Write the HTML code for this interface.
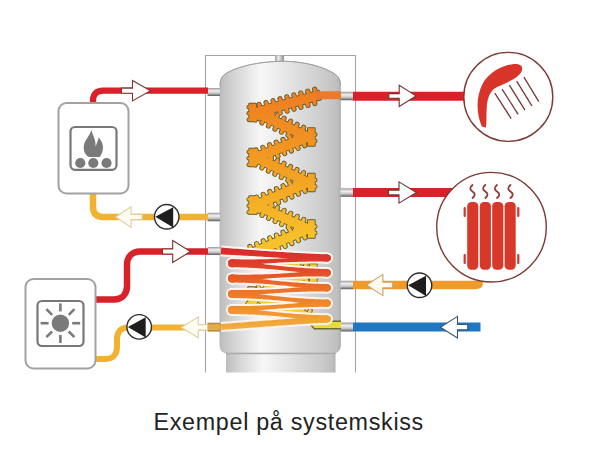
<!DOCTYPE html>
<html><head><meta charset="utf-8"><style>
html,body{margin:0;padding:0;background:#fff;}
body{width:612px;height:476px;position:relative;overflow:hidden;}
svg{position:absolute;left:0;top:0;}
.cap{position:absolute;left:0;top:0;width:612px;font-family:"Liberation Sans",sans-serif;font-size:23.3px;letter-spacing:0.7px;color:#232323;white-space:nowrap;}
.cap span{position:absolute;left:153.5px;top:409px;}
</style></head><body>
<svg width="612" height="476" viewBox="0 0 612 476">
<defs>
<linearGradient id="tankg" x1="0" x2="1" y1="0" y2="0">
 <stop offset="0" stop-color="#bdbdbd"/>
 <stop offset="0.12" stop-color="#d5d5d6"/>
 <stop offset="0.34" stop-color="#f7f7f7"/>
 <stop offset="0.62" stop-color="#e0e0e1"/>
 <stop offset="0.88" stop-color="#cacacb"/>
 <stop offset="0.97" stop-color="#bfbfc0"/>
 <stop offset="1" stop-color="#b2b2b3"/>
</linearGradient>
<linearGradient id="stubg" x1="0" x2="0" y1="0" y2="1">
 <stop offset="0" stop-color="#9a9a9a"/>
 <stop offset="0.35" stop-color="#f0f0f0"/>
 <stop offset="0.65" stop-color="#c8c8c8"/>
 <stop offset="1" stop-color="#5a5a5a"/>
</linearGradient>
<linearGradient id="nozg" x1="0" x2="1" y1="0" y2="0">
 <stop offset="0" stop-color="#a0a0a0"/>
 <stop offset="0.4" stop-color="#eeeeee"/>
 <stop offset="1" stop-color="#8a8a8a"/>
</linearGradient>
<linearGradient id="coilup" x1="0" x2="0" y1="85" y2="330" gradientUnits="userSpaceOnUse">
 <stop offset="0" stop-color="#ee7a22"/>
 <stop offset="0.3" stop-color="#f29a22"/>
 <stop offset="0.62" stop-color="#f7c02a"/>
 <stop offset="1" stop-color="#ecd834"/>
</linearGradient>
<linearGradient id="coillow" x1="0" x2="0" y1="250" y2="328" gradientUnits="userSpaceOnUse">
 <stop offset="0" stop-color="#d92a2c"/>
 <stop offset="0.2" stop-color="#e0402a"/>
 <stop offset="0.45" stop-color="#ea6c28"/>
 <stop offset="0.75" stop-color="#f0902e"/>
 <stop offset="1" stop-color="#f2ae3e"/>
</linearGradient>
</defs>
<path d="M205.5,372.5 V55.5 H355.5 V372.5" fill="none" stroke="#a4a4a4" stroke-width="1.1"/><rect x="226" y="350" width="109.5" height="22.5" fill="url(#tankg)"/><path d="M226,353.5 H335.5" stroke="#a8a8ab" stroke-width="1.5"/><rect x="275" y="55.5" width="9" height="7" fill="url(#nozg)"/><path d="M220,345 V86 C220,79 222,76 226,73.5 C236,67 258,61.5 283,61.2 C305,61.5 324,67 334,73.5 C338.5,76.5 340.5,79 340.5,86 V345 Q340.5,353 332.5,353 H228 Q220,353 220,345 Z" fill="url(#tankg)" stroke="#b0b0b3" stroke-width="0.8"/><path d="M220,86 C220,79 222,76 226,73.5 C236,67 258,61.5 283,61.2 C305,61.5 324,67 334,73.5 C338.5,76.5 340.5,79 340.5,86" fill="none" stroke="#9c9c9f" stroke-width="0.9"/><rect x="207.5" y="88" width="12.5" height="8" fill="url(#stubg)"/><rect x="207.5" y="212.75" width="12.5" height="8.5" fill="url(#stubg)"/><rect x="207.5" y="247" width="12.5" height="8" fill="url(#stubg)"/><rect x="207.5" y="323" width="12.5" height="8" fill="url(#stubg)"/><rect x="340.5" y="91.75" width="12.5" height="8.5" fill="url(#stubg)"/><rect x="340.5" y="188.25" width="12.5" height="8.5" fill="url(#stubg)"/><rect x="340.5" y="280.75" width="12.5" height="8.5" fill="url(#stubg)"/><rect x="340.5" y="322.5" width="12.5" height="9" fill="url(#stubg)"/><path d="M318.75,90.5 L253.82,108.33 L256.25,117.2 L321.18,99.37 Z" fill="#5e5a2c" stroke="#5e5a2c" stroke-width="1.7" stroke-linejoin="round"/><path d="M315.33,91.65 L314.67,89.23" stroke="#5e5a2c" stroke-width="5.2" stroke-linecap="round"/><path d="M308.38,93.55 L307.72,91.14" stroke="#5e5a2c" stroke-width="5.2" stroke-linecap="round"/><path d="M301.44,95.46 L300.78,93.05" stroke="#5e5a2c" stroke-width="5.2" stroke-linecap="round"/><path d="M294.5,97.37 L293.84,94.95" stroke="#5e5a2c" stroke-width="5.2" stroke-linecap="round"/><path d="M287.56,99.27 L286.89,96.86" stroke="#5e5a2c" stroke-width="5.2" stroke-linecap="round"/><path d="M280.61,101.18 L279.95,98.77" stroke="#5e5a2c" stroke-width="5.2" stroke-linecap="round"/><path d="M273.67,103.08 L273.01,100.67" stroke="#5e5a2c" stroke-width="5.2" stroke-linecap="round"/><path d="M266.73,104.99 L266.06,102.58" stroke="#5e5a2c" stroke-width="5.2" stroke-linecap="round"/><path d="M259.78,106.9 L259.12,104.49" stroke="#5e5a2c" stroke-width="5.2" stroke-linecap="round"/><path d="M314.19,101.08 L314.85,103.5" stroke="#5e5a2c" stroke-width="5.2" stroke-linecap="round"/><path d="M307.24,102.99 L307.91,105.4" stroke="#5e5a2c" stroke-width="5.2" stroke-linecap="round"/><path d="M300.3,104.9 L300.96,107.31" stroke="#5e5a2c" stroke-width="5.2" stroke-linecap="round"/><path d="M293.36,106.8 L294.02,109.22" stroke="#5e5a2c" stroke-width="5.2" stroke-linecap="round"/><path d="M286.41,108.71 L287.08,111.12" stroke="#5e5a2c" stroke-width="5.2" stroke-linecap="round"/><path d="M279.47,110.62 L280.13,113.03" stroke="#5e5a2c" stroke-width="5.2" stroke-linecap="round"/><path d="M272.53,112.52 L273.19,114.93" stroke="#5e5a2c" stroke-width="5.2" stroke-linecap="round"/><path d="M265.59,114.43 L266.25,116.84" stroke="#5e5a2c" stroke-width="5.2" stroke-linecap="round"/><path d="M258.64,116.34 L259.3,118.75" stroke="#5e5a2c" stroke-width="5.2" stroke-linecap="round"/><path d="M253.13,116.24 L306.94,141.59 L310.87,133.26 L257.06,107.91 Z" fill="#5e5a2c" stroke="#5e5a2c" stroke-width="1.7" stroke-linejoin="round"/><path d="M256.48,117.59 L255.41,119.85" stroke="#5e5a2c" stroke-width="5.2" stroke-linecap="round"/><path d="M262.99,120.66 L261.92,122.92" stroke="#5e5a2c" stroke-width="5.2" stroke-linecap="round"/><path d="M269.5,123.73 L268.44,125.99" stroke="#5e5a2c" stroke-width="5.2" stroke-linecap="round"/><path d="M276.02,126.79 L274.95,129.06" stroke="#5e5a2c" stroke-width="5.2" stroke-linecap="round"/><path d="M282.53,129.86 L281.46,132.13" stroke="#5e5a2c" stroke-width="5.2" stroke-linecap="round"/><path d="M289.04,132.93 L287.98,135.19" stroke="#5e5a2c" stroke-width="5.2" stroke-linecap="round"/><path d="M295.56,136 L294.49,138.26" stroke="#5e5a2c" stroke-width="5.2" stroke-linecap="round"/><path d="M302.07,139.07 L301,141.33" stroke="#5e5a2c" stroke-width="5.2" stroke-linecap="round"/><path d="M263.48,111.16 L264.55,108.9" stroke="#5e5a2c" stroke-width="5.2" stroke-linecap="round"/><path d="M270,114.23 L271.06,111.97" stroke="#5e5a2c" stroke-width="5.2" stroke-linecap="round"/><path d="M276.51,117.3 L277.58,115.04" stroke="#5e5a2c" stroke-width="5.2" stroke-linecap="round"/><path d="M283.02,120.37 L284.09,118.11" stroke="#5e5a2c" stroke-width="5.2" stroke-linecap="round"/><path d="M289.54,123.44 L290.6,121.18" stroke="#5e5a2c" stroke-width="5.2" stroke-linecap="round"/><path d="M296.05,126.51 L297.12,124.24" stroke="#5e5a2c" stroke-width="5.2" stroke-linecap="round"/><path d="M302.56,129.57 L303.63,127.31" stroke="#5e5a2c" stroke-width="5.2" stroke-linecap="round"/><path d="M309.08,132.64 L310.14,130.38" stroke="#5e5a2c" stroke-width="5.2" stroke-linecap="round"/><path d="M307.24,132.35 L253.38,153.59 L256.76,162.15 L310.62,140.91 Z" fill="#5e5a2c" stroke="#5e5a2c" stroke-width="1.7" stroke-linejoin="round"/><path d="M303.97,133.86 L303.05,131.53" stroke="#5e5a2c" stroke-width="5.2" stroke-linecap="round"/><path d="M297.27,136.5 L296.35,134.18" stroke="#5e5a2c" stroke-width="5.2" stroke-linecap="round"/><path d="M290.57,139.14 L289.65,136.82" stroke="#5e5a2c" stroke-width="5.2" stroke-linecap="round"/><path d="M283.87,141.78 L282.96,139.46" stroke="#5e5a2c" stroke-width="5.2" stroke-linecap="round"/><path d="M277.17,144.42 L276.26,142.1" stroke="#5e5a2c" stroke-width="5.2" stroke-linecap="round"/><path d="M270.48,147.06 L269.56,144.74" stroke="#5e5a2c" stroke-width="5.2" stroke-linecap="round"/><path d="M263.78,149.7 L262.86,147.38" stroke="#5e5a2c" stroke-width="5.2" stroke-linecap="round"/><path d="M257.08,152.34 L256.16,150.02" stroke="#5e5a2c" stroke-width="5.2" stroke-linecap="round"/><path d="M303.85,143.37 L304.76,145.69" stroke="#5e5a2c" stroke-width="5.2" stroke-linecap="round"/><path d="M297.15,146.01 L298.06,148.33" stroke="#5e5a2c" stroke-width="5.2" stroke-linecap="round"/><path d="M290.45,148.65 L291.37,150.97" stroke="#5e5a2c" stroke-width="5.2" stroke-linecap="round"/><path d="M283.75,151.29 L284.67,153.62" stroke="#5e5a2c" stroke-width="5.2" stroke-linecap="round"/><path d="M277.05,153.93 L277.97,156.26" stroke="#5e5a2c" stroke-width="5.2" stroke-linecap="round"/><path d="M270.35,156.57 L271.27,158.9" stroke="#5e5a2c" stroke-width="5.2" stroke-linecap="round"/><path d="M263.66,159.21 L264.57,161.54" stroke="#5e5a2c" stroke-width="5.2" stroke-linecap="round"/><path d="M253.11,161.21 L306.91,187.08 L310.89,178.79 L257.09,152.92 Z" fill="#5e5a2c" stroke="#5e5a2c" stroke-width="1.7" stroke-linejoin="round"/><path d="M256.44,162.59 L255.35,164.85" stroke="#5e5a2c" stroke-width="5.2" stroke-linecap="round"/><path d="M262.93,165.71 L261.84,167.96" stroke="#5e5a2c" stroke-width="5.2" stroke-linecap="round"/><path d="M269.41,168.83 L268.33,171.08" stroke="#5e5a2c" stroke-width="5.2" stroke-linecap="round"/><path d="M275.9,171.95 L274.82,174.2" stroke="#5e5a2c" stroke-width="5.2" stroke-linecap="round"/><path d="M282.39,175.07 L281.31,177.32" stroke="#5e5a2c" stroke-width="5.2" stroke-linecap="round"/><path d="M288.88,178.19 L287.8,180.44" stroke="#5e5a2c" stroke-width="5.2" stroke-linecap="round"/><path d="M295.37,181.31 L294.29,183.56" stroke="#5e5a2c" stroke-width="5.2" stroke-linecap="round"/><path d="M301.86,184.43 L300.78,186.68" stroke="#5e5a2c" stroke-width="5.2" stroke-linecap="round"/><path d="M263.49,156.22 L264.58,153.97" stroke="#5e5a2c" stroke-width="5.2" stroke-linecap="round"/><path d="M269.98,159.34 L271.07,157.09" stroke="#5e5a2c" stroke-width="5.2" stroke-linecap="round"/><path d="M276.47,162.46 L277.56,160.21" stroke="#5e5a2c" stroke-width="5.2" stroke-linecap="round"/><path d="M282.96,165.58 L284.04,163.33" stroke="#5e5a2c" stroke-width="5.2" stroke-linecap="round"/><path d="M289.45,168.7 L290.53,166.45" stroke="#5e5a2c" stroke-width="5.2" stroke-linecap="round"/><path d="M295.94,171.82 L297.02,169.57" stroke="#5e5a2c" stroke-width="5.2" stroke-linecap="round"/><path d="M302.43,174.94 L303.51,172.69" stroke="#5e5a2c" stroke-width="5.2" stroke-linecap="round"/><path d="M308.92,178.06 L310,175.81" stroke="#5e5a2c" stroke-width="5.2" stroke-linecap="round"/><path d="M307.09,177.88 L253.26,201.18 L256.91,209.62 L310.74,186.32 Z" fill="#5e5a2c" stroke="#5e5a2c" stroke-width="1.7" stroke-linejoin="round"/><path d="M303.87,179.49 L302.87,177.2" stroke="#5e5a2c" stroke-width="5.2" stroke-linecap="round"/><path d="M297.26,182.35 L296.27,180.06" stroke="#5e5a2c" stroke-width="5.2" stroke-linecap="round"/><path d="M290.65,185.21 L289.66,182.92" stroke="#5e5a2c" stroke-width="5.2" stroke-linecap="round"/><path d="M284.04,188.07 L283.05,185.78" stroke="#5e5a2c" stroke-width="5.2" stroke-linecap="round"/><path d="M277.43,190.93 L276.44,188.64" stroke="#5e5a2c" stroke-width="5.2" stroke-linecap="round"/><path d="M270.83,193.79 L269.83,191.5" stroke="#5e5a2c" stroke-width="5.2" stroke-linecap="round"/><path d="M264.22,196.65 L263.23,194.36" stroke="#5e5a2c" stroke-width="5.2" stroke-linecap="round"/><path d="M257.61,199.51 L256.62,197.21" stroke="#5e5a2c" stroke-width="5.2" stroke-linecap="round"/><path d="M304.06,189 L305.05,191.29" stroke="#5e5a2c" stroke-width="5.2" stroke-linecap="round"/><path d="M297.45,191.86 L298.44,194.15" stroke="#5e5a2c" stroke-width="5.2" stroke-linecap="round"/><path d="M290.84,194.72 L291.83,197.01" stroke="#5e5a2c" stroke-width="5.2" stroke-linecap="round"/><path d="M284.23,197.58 L285.23,199.87" stroke="#5e5a2c" stroke-width="5.2" stroke-linecap="round"/><path d="M277.63,200.44 L278.62,202.73" stroke="#5e5a2c" stroke-width="5.2" stroke-linecap="round"/><path d="M271.02,203.3 L272.01,205.59" stroke="#5e5a2c" stroke-width="5.2" stroke-linecap="round"/><path d="M264.41,206.16 L265.4,208.45" stroke="#5e5a2c" stroke-width="5.2" stroke-linecap="round"/><path d="M257.8,209.01 L258.79,211.31" stroke="#5e5a2c" stroke-width="5.2" stroke-linecap="round"/><path d="M253.16,208.76 L306.98,233.6 L310.84,225.24 L257.02,200.4 Z" fill="#5e5a2c" stroke="#5e5a2c" stroke-width="1.7" stroke-linejoin="round"/><path d="M256.52,210.08 L255.47,212.35" stroke="#5e5a2c" stroke-width="5.2" stroke-linecap="round"/><path d="M263.05,213.1 L262.01,215.37" stroke="#5e5a2c" stroke-width="5.2" stroke-linecap="round"/><path d="M269.59,216.12 L268.54,218.39" stroke="#5e5a2c" stroke-width="5.2" stroke-linecap="round"/><path d="M276.13,219.14 L275.08,221.41" stroke="#5e5a2c" stroke-width="5.2" stroke-linecap="round"/><path d="M282.67,222.15 L281.62,224.42" stroke="#5e5a2c" stroke-width="5.2" stroke-linecap="round"/><path d="M289.2,225.17 L288.16,227.44" stroke="#5e5a2c" stroke-width="5.2" stroke-linecap="round"/><path d="M295.74,228.19 L294.69,230.46" stroke="#5e5a2c" stroke-width="5.2" stroke-linecap="round"/><path d="M302.28,231.21 L301.23,233.48" stroke="#5e5a2c" stroke-width="5.2" stroke-linecap="round"/><path d="M263.47,203.6 L264.52,201.33" stroke="#5e5a2c" stroke-width="5.2" stroke-linecap="round"/><path d="M270.01,206.62 L271.06,204.35" stroke="#5e5a2c" stroke-width="5.2" stroke-linecap="round"/><path d="M276.55,209.64 L277.6,207.37" stroke="#5e5a2c" stroke-width="5.2" stroke-linecap="round"/><path d="M283.09,212.65 L284.13,210.38" stroke="#5e5a2c" stroke-width="5.2" stroke-linecap="round"/><path d="M289.62,215.67 L290.67,213.4" stroke="#5e5a2c" stroke-width="5.2" stroke-linecap="round"/><path d="M296.16,218.69 L297.21,216.42" stroke="#5e5a2c" stroke-width="5.2" stroke-linecap="round"/><path d="M302.7,221.71 L303.74,219.44" stroke="#5e5a2c" stroke-width="5.2" stroke-linecap="round"/><path d="M309.23,224.72 L310.28,222.45" stroke="#5e5a2c" stroke-width="5.2" stroke-linecap="round"/><path d="M307.1,224.38 L247.26,250.17 L250.9,258.62 L310.74,232.83 Z" fill="#5e5a2c" stroke="#5e5a2c" stroke-width="1.7" stroke-linejoin="round"/><path d="M303.87,225.99 L302.88,223.69" stroke="#5e5a2c" stroke-width="5.2" stroke-linecap="round"/><path d="M297.26,228.84 L296.27,226.54" stroke="#5e5a2c" stroke-width="5.2" stroke-linecap="round"/><path d="M290.65,231.69 L289.66,229.39" stroke="#5e5a2c" stroke-width="5.2" stroke-linecap="round"/><path d="M284.03,234.54 L283.05,232.24" stroke="#5e5a2c" stroke-width="5.2" stroke-linecap="round"/><path d="M277.42,237.39 L276.43,235.09" stroke="#5e5a2c" stroke-width="5.2" stroke-linecap="round"/><path d="M270.81,240.24 L269.82,237.94" stroke="#5e5a2c" stroke-width="5.2" stroke-linecap="round"/><path d="M264.2,243.09 L263.21,240.79" stroke="#5e5a2c" stroke-width="5.2" stroke-linecap="round"/><path d="M257.59,245.94 L256.6,243.64" stroke="#5e5a2c" stroke-width="5.2" stroke-linecap="round"/><path d="M250.98,248.79 L249.99,246.49" stroke="#5e5a2c" stroke-width="5.2" stroke-linecap="round"/><path d="M304.05,235.49 L305.04,237.79" stroke="#5e5a2c" stroke-width="5.2" stroke-linecap="round"/><path d="M297.44,238.34 L298.43,240.64" stroke="#5e5a2c" stroke-width="5.2" stroke-linecap="round"/><path d="M290.82,241.19 L291.81,243.49" stroke="#5e5a2c" stroke-width="5.2" stroke-linecap="round"/><path d="M284.21,244.04 L285.2,246.34" stroke="#5e5a2c" stroke-width="5.2" stroke-linecap="round"/><path d="M277.6,246.89 L278.59,249.19" stroke="#5e5a2c" stroke-width="5.2" stroke-linecap="round"/><path d="M270.99,249.74 L271.98,252.04" stroke="#5e5a2c" stroke-width="5.2" stroke-linecap="round"/><path d="M264.38,252.59 L265.37,254.89" stroke="#5e5a2c" stroke-width="5.2" stroke-linecap="round"/><path d="M257.76,255.44 L258.75,257.74" stroke="#5e5a2c" stroke-width="5.2" stroke-linecap="round"/><path d="M247.66,258.08 L309.56,277.69 L312.34,268.92 L250.44,249.31 Z" fill="#5e5a2c" stroke="#5e5a2c" stroke-width="1.7" stroke-linejoin="round"/><path d="M251.15,258.98 L250.4,261.36" stroke="#5e5a2c" stroke-width="5.2" stroke-linecap="round"/><path d="M258.01,261.15 L257.26,263.54" stroke="#5e5a2c" stroke-width="5.2" stroke-linecap="round"/><path d="M264.88,263.33 L264.12,265.71" stroke="#5e5a2c" stroke-width="5.2" stroke-linecap="round"/><path d="M271.74,265.5 L270.99,267.88" stroke="#5e5a2c" stroke-width="5.2" stroke-linecap="round"/><path d="M278.61,267.67 L277.85,270.06" stroke="#5e5a2c" stroke-width="5.2" stroke-linecap="round"/><path d="M285.47,269.85 L284.72,272.23" stroke="#5e5a2c" stroke-width="5.2" stroke-linecap="round"/><path d="M292.33,272.02 L291.58,274.4" stroke="#5e5a2c" stroke-width="5.2" stroke-linecap="round"/><path d="M299.2,274.19 L298.44,276.58" stroke="#5e5a2c" stroke-width="5.2" stroke-linecap="round"/><path d="M306.06,276.37 L305.31,278.75" stroke="#5e5a2c" stroke-width="5.2" stroke-linecap="round"/><path d="M257.24,251.68 L257.99,249.29" stroke="#5e5a2c" stroke-width="5.2" stroke-linecap="round"/><path d="M264.1,253.85 L264.86,251.47" stroke="#5e5a2c" stroke-width="5.2" stroke-linecap="round"/><path d="M270.97,256.02 L271.72,253.64" stroke="#5e5a2c" stroke-width="5.2" stroke-linecap="round"/><path d="M277.83,258.2 L278.59,255.81" stroke="#5e5a2c" stroke-width="5.2" stroke-linecap="round"/><path d="M284.7,260.37 L285.45,257.99" stroke="#5e5a2c" stroke-width="5.2" stroke-linecap="round"/><path d="M291.56,262.55 L292.31,260.16" stroke="#5e5a2c" stroke-width="5.2" stroke-linecap="round"/><path d="M298.42,264.72 L299.18,262.34" stroke="#5e5a2c" stroke-width="5.2" stroke-linecap="round"/><path d="M305.29,266.89 L306.04,264.51" stroke="#5e5a2c" stroke-width="5.2" stroke-linecap="round"/><path d="M309.15,268.37 L252.3,292.14 L255.85,300.63 L312.7,276.86 Z" fill="#5e5a2c" stroke="#5e5a2c" stroke-width="1.7" stroke-linejoin="round"/><path d="M305.9,269.94 L304.94,267.64" stroke="#5e5a2c" stroke-width="5.2" stroke-linecap="round"/><path d="M299.26,272.72 L298.3,270.42" stroke="#5e5a2c" stroke-width="5.2" stroke-linecap="round"/><path d="M292.62,275.5 L291.65,273.19" stroke="#5e5a2c" stroke-width="5.2" stroke-linecap="round"/><path d="M285.98,278.28 L285.01,275.97" stroke="#5e5a2c" stroke-width="5.2" stroke-linecap="round"/><path d="M279.33,281.05 L278.37,278.75" stroke="#5e5a2c" stroke-width="5.2" stroke-linecap="round"/><path d="M272.69,283.83 L271.73,281.53" stroke="#5e5a2c" stroke-width="5.2" stroke-linecap="round"/><path d="M266.05,286.61 L265.08,284.3" stroke="#5e5a2c" stroke-width="5.2" stroke-linecap="round"/><path d="M259.41,289.39 L258.44,287.08" stroke="#5e5a2c" stroke-width="5.2" stroke-linecap="round"/><path d="M305.98,279.45 L306.94,281.76" stroke="#5e5a2c" stroke-width="5.2" stroke-linecap="round"/><path d="M299.33,282.23 L300.3,284.54" stroke="#5e5a2c" stroke-width="5.2" stroke-linecap="round"/><path d="M292.69,285.01 L293.66,287.31" stroke="#5e5a2c" stroke-width="5.2" stroke-linecap="round"/><path d="M286.05,287.78 L287.01,290.09" stroke="#5e5a2c" stroke-width="5.2" stroke-linecap="round"/><path d="M279.41,290.56 L280.37,292.87" stroke="#5e5a2c" stroke-width="5.2" stroke-linecap="round"/><path d="M272.76,293.34 L273.73,295.65" stroke="#5e5a2c" stroke-width="5.2" stroke-linecap="round"/><path d="M266.12,296.12 L267.09,298.42" stroke="#5e5a2c" stroke-width="5.2" stroke-linecap="round"/><path d="M259.48,298.9 L260.44,301.2" stroke="#5e5a2c" stroke-width="5.2" stroke-linecap="round"/><path d="M252.36,299.9 L309.22,322.64 L312.64,314.1 L255.78,291.36 Z" fill="#5e5a2c" stroke="#5e5a2c" stroke-width="1.7" stroke-linejoin="round"/><path d="M255.78,301.05 L254.85,303.37" stroke="#5e5a2c" stroke-width="5.2" stroke-linecap="round"/><path d="M262.46,303.72 L261.54,306.05" stroke="#5e5a2c" stroke-width="5.2" stroke-linecap="round"/><path d="M269.15,306.4 L268.22,308.72" stroke="#5e5a2c" stroke-width="5.2" stroke-linecap="round"/><path d="M275.84,309.07 L274.91,311.39" stroke="#5e5a2c" stroke-width="5.2" stroke-linecap="round"/><path d="M282.52,311.75 L281.59,314.07" stroke="#5e5a2c" stroke-width="5.2" stroke-linecap="round"/><path d="M289.21,314.42 L288.28,316.74" stroke="#5e5a2c" stroke-width="5.2" stroke-linecap="round"/><path d="M295.89,317.09 L294.96,319.42" stroke="#5e5a2c" stroke-width="5.2" stroke-linecap="round"/><path d="M302.58,319.77 L301.65,322.09" stroke="#5e5a2c" stroke-width="5.2" stroke-linecap="round"/><path d="M262.39,294.22 L263.32,291.9" stroke="#5e5a2c" stroke-width="5.2" stroke-linecap="round"/><path d="M269.08,296.89 L270,294.57" stroke="#5e5a2c" stroke-width="5.2" stroke-linecap="round"/><path d="M275.76,299.57 L276.69,297.24" stroke="#5e5a2c" stroke-width="5.2" stroke-linecap="round"/><path d="M282.45,302.24 L283.37,299.92" stroke="#5e5a2c" stroke-width="5.2" stroke-linecap="round"/><path d="M289.13,304.91 L290.06,302.59" stroke="#5e5a2c" stroke-width="5.2" stroke-linecap="round"/><path d="M295.82,307.59 L296.74,305.27" stroke="#5e5a2c" stroke-width="5.2" stroke-linecap="round"/><path d="M302.5,310.26 L303.43,307.94" stroke="#5e5a2c" stroke-width="5.2" stroke-linecap="round"/><path d="M309.19,312.94 L310.11,310.61" stroke="#5e5a2c" stroke-width="5.2" stroke-linecap="round"/><path d="M249.2,103.7 L249.2,121.3 L256,121.3 L256,103.7 Z" fill="#5e5a2c" stroke="#5e5a2c" stroke-width="1.7" stroke-linejoin="round"/><path d="M250,106.9 L248.7,106.9" stroke="#5e5a2c" stroke-width="4.5" stroke-linecap="round"/><path d="M250,113.3 L248.7,113.3" stroke="#5e5a2c" stroke-width="4.5" stroke-linecap="round"/><path d="M250,119.7 L248.7,119.7" stroke="#5e5a2c" stroke-width="4.5" stroke-linecap="round"/><path d="M308,128.2 L308,145.8 L314.8,145.8 L314.8,128.2 Z" fill="#5e5a2c" stroke="#5e5a2c" stroke-width="1.7" stroke-linejoin="round"/><path d="M314,134.6 L315.3,134.6" stroke="#5e5a2c" stroke-width="4.5" stroke-linecap="round"/><path d="M314,141 L315.3,141" stroke="#5e5a2c" stroke-width="4.5" stroke-linecap="round"/><path d="M249.2,148.7 L249.2,166.3 L256,166.3 L256,148.7 Z" fill="#5e5a2c" stroke="#5e5a2c" stroke-width="1.7" stroke-linejoin="round"/><path d="M250,151.9 L248.7,151.9" stroke="#5e5a2c" stroke-width="4.5" stroke-linecap="round"/><path d="M250,158.3 L248.7,158.3" stroke="#5e5a2c" stroke-width="4.5" stroke-linecap="round"/><path d="M250,164.7 L248.7,164.7" stroke="#5e5a2c" stroke-width="4.5" stroke-linecap="round"/><path d="M308,173.7 L308,191.3 L314.8,191.3 L314.8,173.7 Z" fill="#5e5a2c" stroke="#5e5a2c" stroke-width="1.7" stroke-linejoin="round"/><path d="M314,180.1 L315.3,180.1" stroke="#5e5a2c" stroke-width="4.5" stroke-linecap="round"/><path d="M314,186.5 L315.3,186.5" stroke="#5e5a2c" stroke-width="4.5" stroke-linecap="round"/><path d="M249.2,196.2 L249.2,213.8 L256,213.8 L256,196.2 Z" fill="#5e5a2c" stroke="#5e5a2c" stroke-width="1.7" stroke-linejoin="round"/><path d="M250,199.4 L248.7,199.4" stroke="#5e5a2c" stroke-width="4.5" stroke-linecap="round"/><path d="M250,205.8 L248.7,205.8" stroke="#5e5a2c" stroke-width="4.5" stroke-linecap="round"/><path d="M250,212.2 L248.7,212.2" stroke="#5e5a2c" stroke-width="4.5" stroke-linecap="round"/><path d="M308,220.2 L308,237.8 L314.8,237.8 L314.8,220.2 Z" fill="#5e5a2c" stroke="#5e5a2c" stroke-width="1.7" stroke-linejoin="round"/><path d="M314,226.6 L315.3,226.6" stroke="#5e5a2c" stroke-width="4.5" stroke-linecap="round"/><path d="M314,233 L315.3,233" stroke="#5e5a2c" stroke-width="4.5" stroke-linecap="round"/><path d="M310,264.2 L310,281.8 L316.8,281.8 L316.8,264.2 Z" fill="#5e5a2c" stroke="#5e5a2c" stroke-width="1.7" stroke-linejoin="round"/><path d="M316,270.6 L317.3,270.6" stroke="#5e5a2c" stroke-width="4.5" stroke-linecap="round"/><path d="M316,277 L317.3,277" stroke="#5e5a2c" stroke-width="4.5" stroke-linecap="round"/><path d="M248.2,287.2 L248.2,304.8 L255,304.8 L255,287.2 Z" fill="#5e5a2c" stroke="#5e5a2c" stroke-width="1.7" stroke-linejoin="round"/><path d="M249,290.4 L247.7,290.4" stroke="#5e5a2c" stroke-width="4.5" stroke-linecap="round"/><path d="M249,296.8 L247.7,296.8" stroke="#5e5a2c" stroke-width="4.5" stroke-linecap="round"/><path d="M249,303.2 L247.7,303.2" stroke="#5e5a2c" stroke-width="4.5" stroke-linecap="round"/><path d="M310,318 L316,325 H341" stroke="#6f6a30" stroke-width="9"/><path d="M318.75,90.5 L253.82,108.33 L256.25,117.2 L321.18,99.37 Z" fill="url(#coilup)"/><path d="M315.33,91.65 L314.67,89.23" stroke="url(#coilup)" stroke-width="3.5" stroke-linecap="round"/><path d="M308.38,93.55 L307.72,91.14" stroke="url(#coilup)" stroke-width="3.5" stroke-linecap="round"/><path d="M301.44,95.46 L300.78,93.05" stroke="url(#coilup)" stroke-width="3.5" stroke-linecap="round"/><path d="M294.5,97.37 L293.84,94.95" stroke="url(#coilup)" stroke-width="3.5" stroke-linecap="round"/><path d="M287.56,99.27 L286.89,96.86" stroke="url(#coilup)" stroke-width="3.5" stroke-linecap="round"/><path d="M280.61,101.18 L279.95,98.77" stroke="url(#coilup)" stroke-width="3.5" stroke-linecap="round"/><path d="M273.67,103.08 L273.01,100.67" stroke="url(#coilup)" stroke-width="3.5" stroke-linecap="round"/><path d="M266.73,104.99 L266.06,102.58" stroke="url(#coilup)" stroke-width="3.5" stroke-linecap="round"/><path d="M259.78,106.9 L259.12,104.49" stroke="url(#coilup)" stroke-width="3.5" stroke-linecap="round"/><path d="M314.19,101.08 L314.85,103.5" stroke="url(#coilup)" stroke-width="3.5" stroke-linecap="round"/><path d="M307.24,102.99 L307.91,105.4" stroke="url(#coilup)" stroke-width="3.5" stroke-linecap="round"/><path d="M300.3,104.9 L300.96,107.31" stroke="url(#coilup)" stroke-width="3.5" stroke-linecap="round"/><path d="M293.36,106.8 L294.02,109.22" stroke="url(#coilup)" stroke-width="3.5" stroke-linecap="round"/><path d="M286.41,108.71 L287.08,111.12" stroke="url(#coilup)" stroke-width="3.5" stroke-linecap="round"/><path d="M279.47,110.62 L280.13,113.03" stroke="url(#coilup)" stroke-width="3.5" stroke-linecap="round"/><path d="M272.53,112.52 L273.19,114.93" stroke="url(#coilup)" stroke-width="3.5" stroke-linecap="round"/><path d="M265.59,114.43 L266.25,116.84" stroke="url(#coilup)" stroke-width="3.5" stroke-linecap="round"/><path d="M258.64,116.34 L259.3,118.75" stroke="url(#coilup)" stroke-width="3.5" stroke-linecap="round"/><path d="M253.13,116.24 L306.94,141.59 L310.87,133.26 L257.06,107.91 Z" fill="url(#coilup)"/><path d="M256.48,117.59 L255.41,119.85" stroke="url(#coilup)" stroke-width="3.5" stroke-linecap="round"/><path d="M262.99,120.66 L261.92,122.92" stroke="url(#coilup)" stroke-width="3.5" stroke-linecap="round"/><path d="M269.5,123.73 L268.44,125.99" stroke="url(#coilup)" stroke-width="3.5" stroke-linecap="round"/><path d="M276.02,126.79 L274.95,129.06" stroke="url(#coilup)" stroke-width="3.5" stroke-linecap="round"/><path d="M282.53,129.86 L281.46,132.13" stroke="url(#coilup)" stroke-width="3.5" stroke-linecap="round"/><path d="M289.04,132.93 L287.98,135.19" stroke="url(#coilup)" stroke-width="3.5" stroke-linecap="round"/><path d="M295.56,136 L294.49,138.26" stroke="url(#coilup)" stroke-width="3.5" stroke-linecap="round"/><path d="M302.07,139.07 L301,141.33" stroke="url(#coilup)" stroke-width="3.5" stroke-linecap="round"/><path d="M263.48,111.16 L264.55,108.9" stroke="url(#coilup)" stroke-width="3.5" stroke-linecap="round"/><path d="M270,114.23 L271.06,111.97" stroke="url(#coilup)" stroke-width="3.5" stroke-linecap="round"/><path d="M276.51,117.3 L277.58,115.04" stroke="url(#coilup)" stroke-width="3.5" stroke-linecap="round"/><path d="M283.02,120.37 L284.09,118.11" stroke="url(#coilup)" stroke-width="3.5" stroke-linecap="round"/><path d="M289.54,123.44 L290.6,121.18" stroke="url(#coilup)" stroke-width="3.5" stroke-linecap="round"/><path d="M296.05,126.51 L297.12,124.24" stroke="url(#coilup)" stroke-width="3.5" stroke-linecap="round"/><path d="M302.56,129.57 L303.63,127.31" stroke="url(#coilup)" stroke-width="3.5" stroke-linecap="round"/><path d="M309.08,132.64 L310.14,130.38" stroke="url(#coilup)" stroke-width="3.5" stroke-linecap="round"/><path d="M307.24,132.35 L253.38,153.59 L256.76,162.15 L310.62,140.91 Z" fill="url(#coilup)"/><path d="M303.97,133.86 L303.05,131.53" stroke="url(#coilup)" stroke-width="3.5" stroke-linecap="round"/><path d="M297.27,136.5 L296.35,134.18" stroke="url(#coilup)" stroke-width="3.5" stroke-linecap="round"/><path d="M290.57,139.14 L289.65,136.82" stroke="url(#coilup)" stroke-width="3.5" stroke-linecap="round"/><path d="M283.87,141.78 L282.96,139.46" stroke="url(#coilup)" stroke-width="3.5" stroke-linecap="round"/><path d="M277.17,144.42 L276.26,142.1" stroke="url(#coilup)" stroke-width="3.5" stroke-linecap="round"/><path d="M270.48,147.06 L269.56,144.74" stroke="url(#coilup)" stroke-width="3.5" stroke-linecap="round"/><path d="M263.78,149.7 L262.86,147.38" stroke="url(#coilup)" stroke-width="3.5" stroke-linecap="round"/><path d="M257.08,152.34 L256.16,150.02" stroke="url(#coilup)" stroke-width="3.5" stroke-linecap="round"/><path d="M303.85,143.37 L304.76,145.69" stroke="url(#coilup)" stroke-width="3.5" stroke-linecap="round"/><path d="M297.15,146.01 L298.06,148.33" stroke="url(#coilup)" stroke-width="3.5" stroke-linecap="round"/><path d="M290.45,148.65 L291.37,150.97" stroke="url(#coilup)" stroke-width="3.5" stroke-linecap="round"/><path d="M283.75,151.29 L284.67,153.62" stroke="url(#coilup)" stroke-width="3.5" stroke-linecap="round"/><path d="M277.05,153.93 L277.97,156.26" stroke="url(#coilup)" stroke-width="3.5" stroke-linecap="round"/><path d="M270.35,156.57 L271.27,158.9" stroke="url(#coilup)" stroke-width="3.5" stroke-linecap="round"/><path d="M263.66,159.21 L264.57,161.54" stroke="url(#coilup)" stroke-width="3.5" stroke-linecap="round"/><path d="M253.11,161.21 L306.91,187.08 L310.89,178.79 L257.09,152.92 Z" fill="url(#coilup)"/><path d="M256.44,162.59 L255.35,164.85" stroke="url(#coilup)" stroke-width="3.5" stroke-linecap="round"/><path d="M262.93,165.71 L261.84,167.96" stroke="url(#coilup)" stroke-width="3.5" stroke-linecap="round"/><path d="M269.41,168.83 L268.33,171.08" stroke="url(#coilup)" stroke-width="3.5" stroke-linecap="round"/><path d="M275.9,171.95 L274.82,174.2" stroke="url(#coilup)" stroke-width="3.5" stroke-linecap="round"/><path d="M282.39,175.07 L281.31,177.32" stroke="url(#coilup)" stroke-width="3.5" stroke-linecap="round"/><path d="M288.88,178.19 L287.8,180.44" stroke="url(#coilup)" stroke-width="3.5" stroke-linecap="round"/><path d="M295.37,181.31 L294.29,183.56" stroke="url(#coilup)" stroke-width="3.5" stroke-linecap="round"/><path d="M301.86,184.43 L300.78,186.68" stroke="url(#coilup)" stroke-width="3.5" stroke-linecap="round"/><path d="M263.49,156.22 L264.58,153.97" stroke="url(#coilup)" stroke-width="3.5" stroke-linecap="round"/><path d="M269.98,159.34 L271.07,157.09" stroke="url(#coilup)" stroke-width="3.5" stroke-linecap="round"/><path d="M276.47,162.46 L277.56,160.21" stroke="url(#coilup)" stroke-width="3.5" stroke-linecap="round"/><path d="M282.96,165.58 L284.04,163.33" stroke="url(#coilup)" stroke-width="3.5" stroke-linecap="round"/><path d="M289.45,168.7 L290.53,166.45" stroke="url(#coilup)" stroke-width="3.5" stroke-linecap="round"/><path d="M295.94,171.82 L297.02,169.57" stroke="url(#coilup)" stroke-width="3.5" stroke-linecap="round"/><path d="M302.43,174.94 L303.51,172.69" stroke="url(#coilup)" stroke-width="3.5" stroke-linecap="round"/><path d="M308.92,178.06 L310,175.81" stroke="url(#coilup)" stroke-width="3.5" stroke-linecap="round"/><path d="M307.09,177.88 L253.26,201.18 L256.91,209.62 L310.74,186.32 Z" fill="url(#coilup)"/><path d="M303.87,179.49 L302.87,177.2" stroke="url(#coilup)" stroke-width="3.5" stroke-linecap="round"/><path d="M297.26,182.35 L296.27,180.06" stroke="url(#coilup)" stroke-width="3.5" stroke-linecap="round"/><path d="M290.65,185.21 L289.66,182.92" stroke="url(#coilup)" stroke-width="3.5" stroke-linecap="round"/><path d="M284.04,188.07 L283.05,185.78" stroke="url(#coilup)" stroke-width="3.5" stroke-linecap="round"/><path d="M277.43,190.93 L276.44,188.64" stroke="url(#coilup)" stroke-width="3.5" stroke-linecap="round"/><path d="M270.83,193.79 L269.83,191.5" stroke="url(#coilup)" stroke-width="3.5" stroke-linecap="round"/><path d="M264.22,196.65 L263.23,194.36" stroke="url(#coilup)" stroke-width="3.5" stroke-linecap="round"/><path d="M257.61,199.51 L256.62,197.21" stroke="url(#coilup)" stroke-width="3.5" stroke-linecap="round"/><path d="M304.06,189 L305.05,191.29" stroke="url(#coilup)" stroke-width="3.5" stroke-linecap="round"/><path d="M297.45,191.86 L298.44,194.15" stroke="url(#coilup)" stroke-width="3.5" stroke-linecap="round"/><path d="M290.84,194.72 L291.83,197.01" stroke="url(#coilup)" stroke-width="3.5" stroke-linecap="round"/><path d="M284.23,197.58 L285.23,199.87" stroke="url(#coilup)" stroke-width="3.5" stroke-linecap="round"/><path d="M277.63,200.44 L278.62,202.73" stroke="url(#coilup)" stroke-width="3.5" stroke-linecap="round"/><path d="M271.02,203.3 L272.01,205.59" stroke="url(#coilup)" stroke-width="3.5" stroke-linecap="round"/><path d="M264.41,206.16 L265.4,208.45" stroke="url(#coilup)" stroke-width="3.5" stroke-linecap="round"/><path d="M257.8,209.01 L258.79,211.31" stroke="url(#coilup)" stroke-width="3.5" stroke-linecap="round"/><path d="M253.16,208.76 L306.98,233.6 L310.84,225.24 L257.02,200.4 Z" fill="url(#coilup)"/><path d="M256.52,210.08 L255.47,212.35" stroke="url(#coilup)" stroke-width="3.5" stroke-linecap="round"/><path d="M263.05,213.1 L262.01,215.37" stroke="url(#coilup)" stroke-width="3.5" stroke-linecap="round"/><path d="M269.59,216.12 L268.54,218.39" stroke="url(#coilup)" stroke-width="3.5" stroke-linecap="round"/><path d="M276.13,219.14 L275.08,221.41" stroke="url(#coilup)" stroke-width="3.5" stroke-linecap="round"/><path d="M282.67,222.15 L281.62,224.42" stroke="url(#coilup)" stroke-width="3.5" stroke-linecap="round"/><path d="M289.2,225.17 L288.16,227.44" stroke="url(#coilup)" stroke-width="3.5" stroke-linecap="round"/><path d="M295.74,228.19 L294.69,230.46" stroke="url(#coilup)" stroke-width="3.5" stroke-linecap="round"/><path d="M302.28,231.21 L301.23,233.48" stroke="url(#coilup)" stroke-width="3.5" stroke-linecap="round"/><path d="M263.47,203.6 L264.52,201.33" stroke="url(#coilup)" stroke-width="3.5" stroke-linecap="round"/><path d="M270.01,206.62 L271.06,204.35" stroke="url(#coilup)" stroke-width="3.5" stroke-linecap="round"/><path d="M276.55,209.64 L277.6,207.37" stroke="url(#coilup)" stroke-width="3.5" stroke-linecap="round"/><path d="M283.09,212.65 L284.13,210.38" stroke="url(#coilup)" stroke-width="3.5" stroke-linecap="round"/><path d="M289.62,215.67 L290.67,213.4" stroke="url(#coilup)" stroke-width="3.5" stroke-linecap="round"/><path d="M296.16,218.69 L297.21,216.42" stroke="url(#coilup)" stroke-width="3.5" stroke-linecap="round"/><path d="M302.7,221.71 L303.74,219.44" stroke="url(#coilup)" stroke-width="3.5" stroke-linecap="round"/><path d="M309.23,224.72 L310.28,222.45" stroke="url(#coilup)" stroke-width="3.5" stroke-linecap="round"/><path d="M307.1,224.38 L247.26,250.17 L250.9,258.62 L310.74,232.83 Z" fill="url(#coilup)"/><path d="M303.87,225.99 L302.88,223.69" stroke="url(#coilup)" stroke-width="3.5" stroke-linecap="round"/><path d="M297.26,228.84 L296.27,226.54" stroke="url(#coilup)" stroke-width="3.5" stroke-linecap="round"/><path d="M290.65,231.69 L289.66,229.39" stroke="url(#coilup)" stroke-width="3.5" stroke-linecap="round"/><path d="M284.03,234.54 L283.05,232.24" stroke="url(#coilup)" stroke-width="3.5" stroke-linecap="round"/><path d="M277.42,237.39 L276.43,235.09" stroke="url(#coilup)" stroke-width="3.5" stroke-linecap="round"/><path d="M270.81,240.24 L269.82,237.94" stroke="url(#coilup)" stroke-width="3.5" stroke-linecap="round"/><path d="M264.2,243.09 L263.21,240.79" stroke="url(#coilup)" stroke-width="3.5" stroke-linecap="round"/><path d="M257.59,245.94 L256.6,243.64" stroke="url(#coilup)" stroke-width="3.5" stroke-linecap="round"/><path d="M250.98,248.79 L249.99,246.49" stroke="url(#coilup)" stroke-width="3.5" stroke-linecap="round"/><path d="M304.05,235.49 L305.04,237.79" stroke="url(#coilup)" stroke-width="3.5" stroke-linecap="round"/><path d="M297.44,238.34 L298.43,240.64" stroke="url(#coilup)" stroke-width="3.5" stroke-linecap="round"/><path d="M290.82,241.19 L291.81,243.49" stroke="url(#coilup)" stroke-width="3.5" stroke-linecap="round"/><path d="M284.21,244.04 L285.2,246.34" stroke="url(#coilup)" stroke-width="3.5" stroke-linecap="round"/><path d="M277.6,246.89 L278.59,249.19" stroke="url(#coilup)" stroke-width="3.5" stroke-linecap="round"/><path d="M270.99,249.74 L271.98,252.04" stroke="url(#coilup)" stroke-width="3.5" stroke-linecap="round"/><path d="M264.38,252.59 L265.37,254.89" stroke="url(#coilup)" stroke-width="3.5" stroke-linecap="round"/><path d="M257.76,255.44 L258.75,257.74" stroke="url(#coilup)" stroke-width="3.5" stroke-linecap="round"/><path d="M247.66,258.08 L309.56,277.69 L312.34,268.92 L250.44,249.31 Z" fill="url(#coilup)"/><path d="M251.15,258.98 L250.4,261.36" stroke="url(#coilup)" stroke-width="3.5" stroke-linecap="round"/><path d="M258.01,261.15 L257.26,263.54" stroke="url(#coilup)" stroke-width="3.5" stroke-linecap="round"/><path d="M264.88,263.33 L264.12,265.71" stroke="url(#coilup)" stroke-width="3.5" stroke-linecap="round"/><path d="M271.74,265.5 L270.99,267.88" stroke="url(#coilup)" stroke-width="3.5" stroke-linecap="round"/><path d="M278.61,267.67 L277.85,270.06" stroke="url(#coilup)" stroke-width="3.5" stroke-linecap="round"/><path d="M285.47,269.85 L284.72,272.23" stroke="url(#coilup)" stroke-width="3.5" stroke-linecap="round"/><path d="M292.33,272.02 L291.58,274.4" stroke="url(#coilup)" stroke-width="3.5" stroke-linecap="round"/><path d="M299.2,274.19 L298.44,276.58" stroke="url(#coilup)" stroke-width="3.5" stroke-linecap="round"/><path d="M306.06,276.37 L305.31,278.75" stroke="url(#coilup)" stroke-width="3.5" stroke-linecap="round"/><path d="M257.24,251.68 L257.99,249.29" stroke="url(#coilup)" stroke-width="3.5" stroke-linecap="round"/><path d="M264.1,253.85 L264.86,251.47" stroke="url(#coilup)" stroke-width="3.5" stroke-linecap="round"/><path d="M270.97,256.02 L271.72,253.64" stroke="url(#coilup)" stroke-width="3.5" stroke-linecap="round"/><path d="M277.83,258.2 L278.59,255.81" stroke="url(#coilup)" stroke-width="3.5" stroke-linecap="round"/><path d="M284.7,260.37 L285.45,257.99" stroke="url(#coilup)" stroke-width="3.5" stroke-linecap="round"/><path d="M291.56,262.55 L292.31,260.16" stroke="url(#coilup)" stroke-width="3.5" stroke-linecap="round"/><path d="M298.42,264.72 L299.18,262.34" stroke="url(#coilup)" stroke-width="3.5" stroke-linecap="round"/><path d="M305.29,266.89 L306.04,264.51" stroke="url(#coilup)" stroke-width="3.5" stroke-linecap="round"/><path d="M309.15,268.37 L252.3,292.14 L255.85,300.63 L312.7,276.86 Z" fill="url(#coilup)"/><path d="M305.9,269.94 L304.94,267.64" stroke="url(#coilup)" stroke-width="3.5" stroke-linecap="round"/><path d="M299.26,272.72 L298.3,270.42" stroke="url(#coilup)" stroke-width="3.5" stroke-linecap="round"/><path d="M292.62,275.5 L291.65,273.19" stroke="url(#coilup)" stroke-width="3.5" stroke-linecap="round"/><path d="M285.98,278.28 L285.01,275.97" stroke="url(#coilup)" stroke-width="3.5" stroke-linecap="round"/><path d="M279.33,281.05 L278.37,278.75" stroke="url(#coilup)" stroke-width="3.5" stroke-linecap="round"/><path d="M272.69,283.83 L271.73,281.53" stroke="url(#coilup)" stroke-width="3.5" stroke-linecap="round"/><path d="M266.05,286.61 L265.08,284.3" stroke="url(#coilup)" stroke-width="3.5" stroke-linecap="round"/><path d="M259.41,289.39 L258.44,287.08" stroke="url(#coilup)" stroke-width="3.5" stroke-linecap="round"/><path d="M305.98,279.45 L306.94,281.76" stroke="url(#coilup)" stroke-width="3.5" stroke-linecap="round"/><path d="M299.33,282.23 L300.3,284.54" stroke="url(#coilup)" stroke-width="3.5" stroke-linecap="round"/><path d="M292.69,285.01 L293.66,287.31" stroke="url(#coilup)" stroke-width="3.5" stroke-linecap="round"/><path d="M286.05,287.78 L287.01,290.09" stroke="url(#coilup)" stroke-width="3.5" stroke-linecap="round"/><path d="M279.41,290.56 L280.37,292.87" stroke="url(#coilup)" stroke-width="3.5" stroke-linecap="round"/><path d="M272.76,293.34 L273.73,295.65" stroke="url(#coilup)" stroke-width="3.5" stroke-linecap="round"/><path d="M266.12,296.12 L267.09,298.42" stroke="url(#coilup)" stroke-width="3.5" stroke-linecap="round"/><path d="M259.48,298.9 L260.44,301.2" stroke="url(#coilup)" stroke-width="3.5" stroke-linecap="round"/><path d="M252.36,299.9 L309.22,322.64 L312.64,314.1 L255.78,291.36 Z" fill="url(#coilup)"/><path d="M255.78,301.05 L254.85,303.37" stroke="url(#coilup)" stroke-width="3.5" stroke-linecap="round"/><path d="M262.46,303.72 L261.54,306.05" stroke="url(#coilup)" stroke-width="3.5" stroke-linecap="round"/><path d="M269.15,306.4 L268.22,308.72" stroke="url(#coilup)" stroke-width="3.5" stroke-linecap="round"/><path d="M275.84,309.07 L274.91,311.39" stroke="url(#coilup)" stroke-width="3.5" stroke-linecap="round"/><path d="M282.52,311.75 L281.59,314.07" stroke="url(#coilup)" stroke-width="3.5" stroke-linecap="round"/><path d="M289.21,314.42 L288.28,316.74" stroke="url(#coilup)" stroke-width="3.5" stroke-linecap="round"/><path d="M295.89,317.09 L294.96,319.42" stroke="url(#coilup)" stroke-width="3.5" stroke-linecap="round"/><path d="M302.58,319.77 L301.65,322.09" stroke="url(#coilup)" stroke-width="3.5" stroke-linecap="round"/><path d="M262.39,294.22 L263.32,291.9" stroke="url(#coilup)" stroke-width="3.5" stroke-linecap="round"/><path d="M269.08,296.89 L270,294.57" stroke="url(#coilup)" stroke-width="3.5" stroke-linecap="round"/><path d="M275.76,299.57 L276.69,297.24" stroke="url(#coilup)" stroke-width="3.5" stroke-linecap="round"/><path d="M282.45,302.24 L283.37,299.92" stroke="url(#coilup)" stroke-width="3.5" stroke-linecap="round"/><path d="M289.13,304.91 L290.06,302.59" stroke="url(#coilup)" stroke-width="3.5" stroke-linecap="round"/><path d="M295.82,307.59 L296.74,305.27" stroke="url(#coilup)" stroke-width="3.5" stroke-linecap="round"/><path d="M302.5,310.26 L303.43,307.94" stroke="url(#coilup)" stroke-width="3.5" stroke-linecap="round"/><path d="M309.19,312.94 L310.11,310.61" stroke="url(#coilup)" stroke-width="3.5" stroke-linecap="round"/><path d="M249.2,103.7 L249.2,121.3 L256,121.3 L256,103.7 Z" fill="url(#coilup)"/><path d="M250,106.9 L248.7,106.9" stroke="url(#coilup)" stroke-width="2.8" stroke-linecap="round"/><path d="M250,113.3 L248.7,113.3" stroke="url(#coilup)" stroke-width="2.8" stroke-linecap="round"/><path d="M250,119.7 L248.7,119.7" stroke="url(#coilup)" stroke-width="2.8" stroke-linecap="round"/><path d="M308,128.2 L308,145.8 L314.8,145.8 L314.8,128.2 Z" fill="url(#coilup)"/><path d="M314,134.6 L315.3,134.6" stroke="url(#coilup)" stroke-width="2.8" stroke-linecap="round"/><path d="M314,141 L315.3,141" stroke="url(#coilup)" stroke-width="2.8" stroke-linecap="round"/><path d="M249.2,148.7 L249.2,166.3 L256,166.3 L256,148.7 Z" fill="url(#coilup)"/><path d="M250,151.9 L248.7,151.9" stroke="url(#coilup)" stroke-width="2.8" stroke-linecap="round"/><path d="M250,158.3 L248.7,158.3" stroke="url(#coilup)" stroke-width="2.8" stroke-linecap="round"/><path d="M250,164.7 L248.7,164.7" stroke="url(#coilup)" stroke-width="2.8" stroke-linecap="round"/><path d="M308,173.7 L308,191.3 L314.8,191.3 L314.8,173.7 Z" fill="url(#coilup)"/><path d="M314,180.1 L315.3,180.1" stroke="url(#coilup)" stroke-width="2.8" stroke-linecap="round"/><path d="M314,186.5 L315.3,186.5" stroke="url(#coilup)" stroke-width="2.8" stroke-linecap="round"/><path d="M249.2,196.2 L249.2,213.8 L256,213.8 L256,196.2 Z" fill="url(#coilup)"/><path d="M250,199.4 L248.7,199.4" stroke="url(#coilup)" stroke-width="2.8" stroke-linecap="round"/><path d="M250,205.8 L248.7,205.8" stroke="url(#coilup)" stroke-width="2.8" stroke-linecap="round"/><path d="M250,212.2 L248.7,212.2" stroke="url(#coilup)" stroke-width="2.8" stroke-linecap="round"/><path d="M308,220.2 L308,237.8 L314.8,237.8 L314.8,220.2 Z" fill="url(#coilup)"/><path d="M314,226.6 L315.3,226.6" stroke="url(#coilup)" stroke-width="2.8" stroke-linecap="round"/><path d="M314,233 L315.3,233" stroke="url(#coilup)" stroke-width="2.8" stroke-linecap="round"/><path d="M310,264.2 L310,281.8 L316.8,281.8 L316.8,264.2 Z" fill="url(#coilup)"/><path d="M316,270.6 L317.3,270.6" stroke="url(#coilup)" stroke-width="2.8" stroke-linecap="round"/><path d="M316,277 L317.3,277" stroke="url(#coilup)" stroke-width="2.8" stroke-linecap="round"/><path d="M248.2,287.2 L248.2,304.8 L255,304.8 L255,287.2 Z" fill="url(#coilup)"/><path d="M249,290.4 L247.7,290.4" stroke="url(#coilup)" stroke-width="2.8" stroke-linecap="round"/><path d="M249,296.8 L247.7,296.8" stroke="url(#coilup)" stroke-width="2.8" stroke-linecap="round"/><path d="M249,303.2 L247.7,303.2" stroke="url(#coilup)" stroke-width="2.8" stroke-linecap="round"/><path d="M310,318 L316,325 H341" stroke="#e9dc36" stroke-width="6"/><rect x="316" y="91.3" width="25" height="7.9" fill="#ec7a2a"/><path d="M220.64,256.49 L223.3,256.6 L225.96,256.72 L228.61,256.85 L231.27,256.97 L233.93,257.1 L236.59,257.23 L239.25,257.37 L241.9,257.5 L244.56,257.65 L247.22,257.79 L249.87,257.94 L252.53,258.09 L255.19,258.24 L257.84,258.39 L260.5,258.55 L263.16,258.71 L265.81,258.88 L268.47,259.05 L271.12,259.22 L273.78,259.39 L276.43,259.57 L279.09,259.75 L281.74,259.93 L284.4,260.12 L287.05,260.31 L289.7,260.5 L292.36,260.7 L295.01,260.9 L297.66,261.11 L300.32,261.31 L302.97,261.53 L305.62,261.74 L308.27,261.96 L310.93,262.18 L313.58,262.41 L316.23,262.64 L318.88,262.87 L321.53,263.11 L324.18,263.34 L326.83,263.59 L327.57,252.41 L324.91,252.31 L322.25,252.19 L319.59,252.08 L316.93,251.96 L314.27,251.84 L311.61,251.72 L308.96,251.59 L306.3,251.46 L303.64,251.32 L300.98,251.19 L298.33,251.04 L295.67,250.9 L293.01,250.75 L290.36,250.6 L287.7,250.44 L285.04,250.28 L282.39,250.12 L279.73,249.95 L277.08,249.78 L274.42,249.61 L271.77,249.43 L269.11,249.25 L266.46,249.07 L263.8,248.89 L261.15,248.7 L258.5,248.51 L255.84,248.31 L253.19,248.11 L250.54,247.91 L247.88,247.71 L245.23,247.5 L242.58,247.3 L239.92,247.08 L237.27,246.87 L234.62,246.65 L231.97,246.43 L229.32,246.2 L226.66,245.98 L224.01,245.75 L221.36,245.51Z" fill="#fff4ee"/><circle cx="327.2" cy="258" r="5.6" fill="#fff4ee"/><path d="M326.89,252.41 L324.52,252.69 L322.15,252.97 L319.78,253.24 L317.41,253.5 L315.03,253.76 L312.66,254 L310.28,254.24 L307.91,254.47 L305.54,254.69 L303.16,254.91 L300.78,255.11 L298.41,255.31 L296.03,255.5 L293.65,255.68 L291.28,255.86 L288.9,256.02 L286.52,256.18 L284.14,256.33 L281.76,256.47 L279.38,256.61 L277,256.73 L274.62,256.85 L272.24,256.95 L269.86,257.05 L267.48,257.13 L265.09,257.21 L262.71,257.27 L260.32,257.33 L257.94,257.37 L255.55,257.41 L253.17,257.43 L250.78,257.45 L248.4,257.45 L246.01,257.45 L243.62,257.43 L241.23,257.41 L238.84,257.37 L236.45,257.33 L234.06,257.27 L231.67,257.21 L232.33,269.19 L234.7,268.87 L237.07,268.55 L239.44,268.25 L241.81,267.95 L244.18,267.67 L246.55,267.39 L248.92,267.13 L251.3,266.87 L253.67,266.63 L256.05,266.39 L258.42,266.17 L260.8,265.95 L263.17,265.75 L265.55,265.55 L267.92,265.37 L270.3,265.19 L272.68,265.03 L275.06,264.87 L277.44,264.73 L279.82,264.59 L282.2,264.47 L284.58,264.35 L286.96,264.24 L289.34,264.14 L291.72,264.04 L294.11,263.96 L296.49,263.88 L298.87,263.81 L301.26,263.75 L303.64,263.69 L306.02,263.65 L308.41,263.61 L310.8,263.58 L313.18,263.56 L315.57,263.54 L317.95,263.54 L320.34,263.54 L322.73,263.55 L325.12,263.57 L327.51,263.59Z" fill="#fff4ee"/><circle cx="327.2" cy="258" r="5.6" fill="#fff4ee"/><circle cx="232" cy="263.2" r="6" fill="#fff4ee"/><path d="M231.4,269.17 L233.8,269.22 L236.2,269.27 L238.59,269.34 L240.99,269.41 L243.39,269.5 L245.78,269.59 L248.17,269.7 L250.57,269.82 L252.96,269.94 L255.35,270.08 L257.74,270.22 L260.13,270.38 L262.51,270.54 L264.9,270.72 L267.29,270.9 L269.67,271.1 L272.05,271.3 L274.44,271.52 L276.82,271.74 L279.2,271.98 L281.58,272.22 L283.96,272.48 L286.34,272.74 L288.71,273 L291.09,273.28 L293.46,273.56 L295.84,273.85 L298.21,274.15 L300.59,274.46 L302.96,274.78 L305.33,275.1 L307.7,275.43 L310.07,275.77 L312.44,276.12 L314.81,276.48 L317.18,276.84 L319.54,277.21 L321.91,277.59 L324.27,277.98 L326.64,278.37 L327.76,267.23 L325.37,267.14 L322.97,267.05 L320.58,266.95 L318.18,266.84 L315.79,266.72 L313.4,266.6 L311.01,266.47 L308.62,266.33 L306.23,266.18 L303.84,266.02 L301.45,265.86 L299.07,265.69 L296.68,265.51 L294.3,265.32 L291.91,265.12 L289.53,264.92 L287.14,264.7 L284.76,264.48 L282.38,264.26 L280,264.02 L277.62,263.78 L275.24,263.52 L272.87,263.26 L270.49,262.98 L268.11,262.7 L265.74,262.4 L263.37,262.1 L260.99,261.78 L258.62,261.46 L256.25,261.12 L253.88,260.78 L251.51,260.42 L249.15,260.06 L246.78,259.69 L244.41,259.3 L242.05,258.91 L239.69,258.5 L237.32,258.09 L234.96,257.66 L232.6,257.23Z" fill="#fff4ee"/><circle cx="232" cy="263.2" r="6" fill="#fff4ee"/><circle cx="327.2" cy="272.8" r="5.6" fill="#fff4ee"/><path d="M326.87,267.21 L324.49,267.51 L322.12,267.8 L319.75,268.08 L317.38,268.35 L315.01,268.62 L312.63,268.88 L310.26,269.13 L307.89,269.37 L305.51,269.61 L303.14,269.83 L300.76,270.05 L298.39,270.26 L296.01,270.46 L293.63,270.66 L291.25,270.84 L288.88,271.02 L286.5,271.19 L284.12,271.36 L281.74,271.51 L279.36,271.66 L276.98,271.79 L274.6,271.92 L272.22,272.04 L269.84,272.15 L267.45,272.24 L265.07,272.33 L262.69,272.41 L260.3,272.48 L257.92,272.54 L255.53,272.58 L253.14,272.62 L250.76,272.65 L248.37,272.67 L245.98,272.67 L243.59,272.67 L241.2,272.66 L238.81,272.64 L236.42,272.61 L234.03,272.56 L231.64,272.51 L232.36,284.49 L234.73,284.15 L237.1,283.82 L239.47,283.51 L241.84,283.2 L244.21,282.9 L246.58,282.62 L248.95,282.34 L251.32,282.07 L253.7,281.81 L256.07,281.57 L258.44,281.33 L260.82,281.1 L263.19,280.88 L265.57,280.68 L267.95,280.48 L270.32,280.29 L272.7,280.12 L275.08,279.95 L277.46,279.79 L279.84,279.64 L282.22,279.5 L284.6,279.37 L286.98,279.25 L289.36,279.14 L291.75,279.03 L294.13,278.93 L296.51,278.84 L298.89,278.76 L301.28,278.68 L303.66,278.62 L306.05,278.56 L308.43,278.51 L310.82,278.47 L313.21,278.43 L315.59,278.4 L317.98,278.39 L320.37,278.37 L322.76,278.37 L325.15,278.38 L327.53,278.39Z" fill="#fff4ee"/><circle cx="327.2" cy="272.8" r="5.6" fill="#fff4ee"/><circle cx="232" cy="278.5" r="6" fill="#fff4ee"/><path d="M231.42,284.47 L233.82,284.51 L236.21,284.56 L238.61,284.62 L241.01,284.68 L243.4,284.76 L245.8,284.85 L248.19,284.95 L250.58,285.06 L252.97,285.18 L255.36,285.3 L257.75,285.44 L260.14,285.59 L262.53,285.75 L264.91,285.92 L267.3,286.09 L269.68,286.28 L272.07,286.48 L274.45,286.69 L276.83,286.9 L279.21,287.13 L281.59,287.37 L283.97,287.61 L286.35,287.86 L288.72,288.12 L291.1,288.39 L293.48,288.67 L295.85,288.95 L298.23,289.25 L300.6,289.55 L302.97,289.85 L305.34,290.17 L307.72,290.49 L310.09,290.83 L312.45,291.17 L314.82,291.51 L317.19,291.87 L319.56,292.23 L321.93,292.61 L324.29,292.99 L326.66,293.37 L327.74,282.23 L325.35,282.15 L322.95,282.06 L320.56,281.97 L318.17,281.87 L315.78,281.76 L313.39,281.64 L310.99,281.52 L308.6,281.39 L306.22,281.24 L303.83,281.1 L301.44,280.94 L299.05,280.77 L296.67,280.6 L294.28,280.42 L291.9,280.23 L289.52,280.04 L287.13,279.83 L284.75,279.62 L282.37,279.4 L279.99,279.17 L277.61,278.93 L275.23,278.68 L272.85,278.43 L270.48,278.16 L268.1,277.88 L265.73,277.59 L263.35,277.3 L260.98,276.99 L258.61,276.67 L256.24,276.35 L253.87,276.01 L251.5,275.66 L249.13,275.31 L246.76,274.94 L244.4,274.56 L242.03,274.18 L239.67,273.78 L237.31,273.37 L234.94,272.96 L232.58,272.53Z" fill="#fff4ee"/><circle cx="232" cy="278.5" r="6" fill="#fff4ee"/><circle cx="327.2" cy="287.8" r="5.6" fill="#fff4ee"/><path d="M326.84,282.21 L324.47,282.52 L322.1,282.83 L319.72,283.12 L317.35,283.41 L314.98,283.69 L312.61,283.96 L310.24,284.22 L307.86,284.47 L305.49,284.72 L303.11,284.96 L300.74,285.19 L298.36,285.41 L295.99,285.63 L293.61,285.83 L291.23,286.03 L288.86,286.22 L286.48,286.41 L284.1,286.58 L281.72,286.75 L279.34,286.91 L276.96,287.06 L274.58,287.2 L272.2,287.33 L269.81,287.45 L267.43,287.56 L265.05,287.66 L262.66,287.75 L260.28,287.83 L257.89,287.9 L255.51,287.96 L253.12,288.01 L250.73,288.05 L248.35,288.08 L245.96,288.1 L243.57,288.11 L241.18,288.11 L238.79,288.1 L236.39,288.08 L234,288.05 L231.61,288.01 L232.39,299.99 L234.76,299.64 L237.13,299.3 L239.49,298.97 L241.86,298.65 L244.23,298.34 L246.6,298.04 L248.97,297.75 L251.35,297.47 L253.72,297.2 L256.09,296.94 L258.47,296.69 L260.84,296.45 L263.22,296.22 L265.59,296 L267.97,295.79 L270.35,295.59 L272.72,295.4 L275.1,295.22 L277.48,295.05 L279.86,294.89 L282.24,294.74 L284.62,294.6 L287,294.46 L289.38,294.34 L291.77,294.22 L294.15,294.11 L296.53,294 L298.92,293.91 L301.3,293.82 L303.69,293.74 L306.07,293.67 L308.46,293.61 L310.84,293.55 L313.23,293.5 L315.62,293.46 L318.01,293.43 L320.4,293.41 L322.78,293.39 L325.17,293.39 L327.56,293.39Z" fill="#fff4ee"/><circle cx="327.2" cy="287.8" r="5.6" fill="#fff4ee"/><circle cx="232" cy="294" r="6" fill="#fff4ee"/><path d="M231.42,299.97 L233.82,300.01 L236.22,300.05 L238.62,300.11 L241.01,300.18 L243.41,300.25 L245.8,300.34 L248.19,300.43 L250.59,300.54 L252.98,300.65 L255.37,300.78 L257.76,300.91 L260.14,301.06 L262.53,301.22 L264.92,301.38 L267.3,301.56 L269.69,301.74 L272.07,301.94 L274.45,302.14 L276.83,302.36 L279.22,302.58 L281.59,302.82 L283.97,303.06 L286.35,303.31 L288.73,303.57 L291.11,303.83 L293.48,304.1 L295.86,304.39 L298.23,304.68 L300.6,304.97 L302.98,305.28 L305.35,305.59 L307.72,305.91 L310.09,306.24 L312.46,306.58 L314.83,306.93 L317.2,307.28 L319.56,307.64 L321.93,308.01 L324.3,308.39 L326.66,308.77 L327.74,297.63 L325.34,297.55 L322.95,297.47 L320.56,297.38 L318.16,297.28 L315.77,297.17 L313.38,297.06 L310.99,296.94 L308.6,296.81 L306.21,296.67 L303.82,296.52 L301.44,296.37 L299.05,296.2 L296.66,296.03 L294.28,295.86 L291.89,295.67 L289.51,295.47 L287.13,295.27 L284.75,295.06 L282.37,294.84 L279.98,294.62 L277.61,294.38 L275.23,294.14 L272.85,293.88 L270.47,293.62 L268.1,293.34 L265.72,293.06 L263.35,292.76 L260.98,292.46 L258.6,292.15 L256.23,291.82 L253.86,291.49 L251.49,291.14 L249.13,290.79 L246.76,290.42 L244.39,290.05 L242.03,289.66 L239.66,289.27 L237.3,288.87 L234.94,288.45 L232.58,288.03Z" fill="#fff4ee"/><circle cx="232" cy="294" r="6" fill="#fff4ee"/><circle cx="327.2" cy="303.2" r="5.6" fill="#fff4ee"/><path d="M326.8,297.61 L324.43,297.94 L322.06,298.26 L319.69,298.57 L317.32,298.87 L314.95,299.16 L312.58,299.45 L310.21,299.73 L307.83,300 L305.46,300.26 L303.09,300.51 L300.71,300.76 L298.34,300.99 L295.96,301.22 L293.58,301.45 L291.21,301.66 L288.83,301.87 L286.45,302.06 L284.07,302.25 L281.69,302.44 L279.32,302.61 L276.93,302.78 L274.55,302.93 L272.17,303.08 L269.79,303.21 L267.41,303.34 L265.02,303.45 L262.64,303.56 L260.25,303.65 L257.87,303.74 L255.48,303.81 L253.09,303.88 L250.7,303.93 L248.31,303.98 L245.93,304.01 L243.53,304.04 L241.14,304.05 L238.75,304.06 L236.36,304.05 L233.97,304.04 L231.57,304.02 L232.43,315.98 L234.79,315.62 L237.16,315.27 L239.53,314.92 L241.9,314.59 L244.27,314.26 L246.63,313.95 L249.01,313.64 L251.38,313.35 L253.75,313.06 L256.12,312.79 L258.49,312.52 L260.87,312.27 L263.24,312.02 L265.62,311.79 L267.99,311.56 L270.37,311.35 L272.75,311.14 L275.13,310.95 L277.51,310.76 L279.88,310.59 L282.27,310.42 L284.65,310.27 L287.03,310.12 L289.41,309.97 L291.79,309.84 L294.18,309.71 L296.56,309.6 L298.94,309.49 L301.33,309.38 L303.71,309.29 L306.1,309.2 L308.49,309.12 L310.87,309.05 L313.26,308.99 L315.65,308.94 L318.04,308.89 L320.43,308.85 L322.82,308.82 L325.21,308.8 L327.6,308.79Z" fill="#fff4ee"/><circle cx="327.2" cy="303.2" r="5.6" fill="#fff4ee"/><circle cx="232" cy="310" r="6" fill="#fff4ee"/><path d="M231.44,315.97 L233.83,316 L236.23,316.05 L238.63,316.1 L241.02,316.16 L243.42,316.23 L245.81,316.31 L248.2,316.4 L250.6,316.5 L252.99,316.61 L255.38,316.73 L257.77,316.86 L260.15,317 L262.54,317.15 L264.93,317.31 L267.31,317.48 L269.7,317.66 L272.08,317.85 L274.46,318.05 L276.84,318.26 L279.22,318.48 L281.6,318.71 L283.98,318.95 L286.36,319.19 L288.74,319.45 L291.11,319.71 L293.49,319.98 L295.87,320.25 L298.24,320.54 L300.61,320.83 L302.99,321.13 L305.36,321.44 L307.73,321.76 L310.1,322.08 L312.47,322.41 L314.84,322.75 L317.21,323.1 L319.57,323.46 L321.94,323.82 L324.31,324.19 L326.67,324.58 L327.73,313.42 L325.33,313.36 L322.94,313.28 L320.55,313.19 L318.15,313.1 L315.76,313 L313.37,312.89 L310.98,312.77 L308.59,312.64 L306.2,312.51 L303.81,312.37 L301.43,312.22 L299.04,312.06 L296.65,311.9 L294.27,311.72 L291.89,311.54 L289.5,311.35 L287.12,311.16 L284.74,310.95 L282.36,310.74 L279.98,310.52 L277.6,310.29 L275.22,310.05 L272.84,309.8 L270.46,309.54 L268.09,309.27 L265.71,308.99 L263.34,308.7 L260.97,308.4 L258.59,308.09 L256.22,307.77 L253.85,307.44 L251.48,307.1 L249.12,306.75 L246.75,306.39 L244.38,306.02 L242.02,305.64 L239.65,305.25 L237.29,304.85 L234.93,304.45 L232.56,304.03Z" fill="#fff4ee"/><circle cx="232" cy="310" r="6" fill="#fff4ee"/><circle cx="327.2" cy="319" r="5.6" fill="#fff4ee"/><path d="M326.78,313.42 L324.13,313.67 L321.48,313.93 L318.83,314.18 L316.18,314.43 L313.52,314.68 L310.87,314.92 L308.22,315.16 L305.57,315.4 L302.92,315.63 L300.26,315.86 L297.61,316.09 L294.96,316.32 L292.3,316.54 L289.65,316.76 L287,316.98 L284.34,317.19 L281.69,317.4 L279.03,317.61 L276.38,317.81 L273.72,318.01 L271.07,318.21 L268.41,318.41 L265.76,318.61 L263.1,318.81 L260.45,319.01 L257.79,319.21 L255.14,319.41 L252.48,319.61 L249.83,319.81 L247.17,320.01 L244.52,320.21 L241.86,320.41 L239.21,320.61 L236.55,320.81 L233.9,321.01 L231.24,321.21 L228.59,321.41 L225.93,321.61 L223.28,321.81 L220.62,322.01 L221.38,331.99 L224.03,331.79 L226.69,331.59 L229.34,331.39 L232,331.19 L234.65,330.99 L237.31,330.79 L239.96,330.59 L242.62,330.39 L245.27,330.19 L247.93,329.99 L250.58,329.79 L253.24,329.59 L255.89,329.39 L258.55,329.19 L261.2,328.99 L263.86,328.79 L266.51,328.59 L269.17,328.39 L271.82,328.19 L274.48,327.99 L277.13,327.79 L279.79,327.59 L282.44,327.4 L285.1,327.21 L287.75,327.02 L290.41,326.84 L293.07,326.66 L295.72,326.48 L298.38,326.31 L301.04,326.14 L303.69,325.97 L306.35,325.8 L309.01,325.64 L311.67,325.48 L314.33,325.32 L316.98,325.17 L319.64,325.02 L322.3,324.87 L324.96,324.73 L327.62,324.58Z" fill="#fff4ee"/><circle cx="327.2" cy="319" r="5.6" fill="#fff4ee"/><path d="M220.77,254.49 L223.43,254.61 L226.09,254.73 L228.75,254.85 L231.4,254.98 L234.06,255.11 L236.72,255.24 L239.38,255.37 L242.04,255.51 L244.69,255.65 L247.35,255.79 L250.01,255.94 L252.66,256.09 L255.32,256.24 L257.98,256.4 L260.63,256.56 L263.29,256.72 L265.94,256.88 L268.6,257.05 L271.25,257.22 L273.91,257.39 L276.56,257.57 L279.22,257.75 L281.87,257.93 L284.53,258.12 L287.18,258.31 L289.84,258.51 L292.49,258.7 L295.14,258.91 L297.79,259.11 L300.45,259.32 L303.1,259.53 L305.75,259.75 L308.4,259.96 L311.06,260.19 L313.71,260.41 L316.36,260.64 L319.01,260.87 L321.66,261.11 L324.31,261.35 L326.96,261.59 L327.44,254.41 L324.78,254.3 L322.12,254.19 L319.46,254.08 L316.8,253.96 L314.14,253.84 L311.48,253.71 L308.83,253.59 L306.17,253.45 L303.51,253.32 L300.85,253.18 L298.2,253.04 L295.54,252.89 L292.88,252.75 L290.22,252.59 L287.57,252.44 L284.91,252.28 L282.26,252.12 L279.6,251.95 L276.95,251.78 L274.29,251.61 L271.64,251.43 L268.98,251.25 L266.33,251.07 L263.67,250.88 L261.02,250.69 L258.36,250.5 L255.71,250.31 L253.06,250.11 L250.4,249.91 L247.75,249.71 L245.1,249.5 L242.44,249.29 L239.79,249.08 L237.14,248.86 L234.49,248.64 L231.84,248.42 L229.18,248.2 L226.53,247.97 L223.88,247.74 L221.23,247.51Z" fill="url(#coillow)"/><circle cx="327.2" cy="258" r="3.6" fill="url(#coillow)"/><path d="M327,254.41 L324.63,254.69 L322.26,254.97 L319.89,255.24 L317.52,255.5 L315.14,255.75 L312.77,256 L310.39,256.24 L308.02,256.47 L305.64,256.69 L303.27,256.9 L300.89,257.11 L298.52,257.31 L296.14,257.5 L293.76,257.68 L291.39,257.85 L289.01,258.02 L286.63,258.18 L284.25,258.33 L281.87,258.47 L279.49,258.6 L277.11,258.73 L274.73,258.84 L272.35,258.95 L269.97,259.04 L267.58,259.13 L265.2,259.2 L262.82,259.27 L260.43,259.32 L258.05,259.37 L255.66,259.4 L253.28,259.43 L250.89,259.44 L248.5,259.45 L246.12,259.44 L243.73,259.43 L241.34,259.4 L238.95,259.37 L236.56,259.33 L234.17,259.27 L231.78,259.21 L232.22,267.19 L234.59,266.87 L236.96,266.55 L239.33,266.25 L241.7,265.96 L244.07,265.67 L246.44,265.4 L248.82,265.13 L251.19,264.88 L253.56,264.63 L255.94,264.4 L258.31,264.17 L260.69,263.96 L263.06,263.75 L265.44,263.56 L267.82,263.37 L270.19,263.2 L272.57,263.03 L274.95,262.88 L277.33,262.73 L279.71,262.6 L282.09,262.47 L284.47,262.35 L286.85,262.24 L289.23,262.14 L291.61,262.05 L294,261.96 L296.38,261.88 L298.76,261.81 L301.15,261.75 L303.53,261.7 L305.92,261.65 L308.3,261.61 L310.69,261.58 L313.07,261.56 L315.46,261.55 L317.84,261.54 L320.23,261.54 L322.62,261.55 L325.01,261.57 L327.4,261.59Z" fill="url(#coillow)"/><circle cx="327.2" cy="258" r="3.6" fill="url(#coillow)"/><circle cx="232" cy="263.2" r="4" fill="url(#coillow)"/><path d="M231.6,267.18 L234,267.23 L236.4,267.28 L238.79,267.35 L241.19,267.42 L243.59,267.51 L245.98,267.6 L248.37,267.71 L250.77,267.83 L253.16,267.95 L255.55,268.09 L257.94,268.23 L260.33,268.39 L262.71,268.55 L265.1,268.73 L267.49,268.91 L269.87,269.11 L272.25,269.31 L274.64,269.53 L277.02,269.75 L279.4,269.99 L281.78,270.23 L284.16,270.49 L286.54,270.75 L288.91,271.01 L291.29,271.29 L293.66,271.57 L296.04,271.86 L298.41,272.16 L300.79,272.47 L303.16,272.79 L305.53,273.11 L307.9,273.44 L310.27,273.78 L312.64,274.13 L315.01,274.49 L317.38,274.85 L319.74,275.22 L322.11,275.6 L324.47,275.99 L326.84,276.38 L327.56,269.22 L325.17,269.13 L322.77,269.04 L320.38,268.94 L317.98,268.83 L315.59,268.71 L313.2,268.59 L310.81,268.46 L308.42,268.32 L306.03,268.17 L303.64,268.01 L301.25,267.85 L298.87,267.68 L296.48,267.5 L294.1,267.31 L291.71,267.11 L289.33,266.91 L286.94,266.69 L284.56,266.47 L282.18,266.25 L279.8,266.01 L277.42,265.77 L275.04,265.51 L272.67,265.25 L270.29,264.97 L267.91,264.69 L265.54,264.39 L263.17,264.09 L260.79,263.77 L258.42,263.45 L256.05,263.11 L253.68,262.77 L251.31,262.41 L248.95,262.05 L246.58,261.68 L244.21,261.29 L241.85,260.9 L239.49,260.49 L237.12,260.08 L234.76,259.65 L232.4,259.22Z" fill="url(#coillow)"/><circle cx="232" cy="263.2" r="4" fill="url(#coillow)"/><circle cx="327.2" cy="272.8" r="3.6" fill="url(#coillow)"/><path d="M326.98,269.21 L324.61,269.5 L322.24,269.79 L319.87,270.08 L317.5,270.35 L315.13,270.62 L312.75,270.88 L310.38,271.13 L308.01,271.37 L305.63,271.6 L303.26,271.83 L300.88,272.05 L298.51,272.26 L296.13,272.46 L293.75,272.65 L291.37,272.84 L289,273.02 L286.62,273.19 L284.24,273.35 L281.86,273.51 L279.48,273.65 L277.1,273.79 L274.72,273.92 L272.34,274.04 L269.96,274.14 L267.57,274.24 L265.19,274.33 L262.81,274.41 L260.42,274.47 L258.04,274.53 L255.65,274.58 L253.26,274.62 L250.88,274.64 L248.49,274.66 L246.1,274.67 L243.71,274.67 L241.32,274.66 L238.93,274.63 L236.54,274.6 L234.15,274.56 L231.76,274.51 L232.24,282.49 L234.61,282.16 L236.98,281.83 L239.35,281.51 L241.72,281.2 L244.09,280.91 L246.46,280.62 L248.83,280.34 L251.2,280.08 L253.58,279.82 L255.95,279.57 L258.32,279.33 L260.7,279.11 L263.07,278.89 L265.45,278.68 L267.83,278.48 L270.2,278.3 L272.58,278.12 L274.96,277.95 L277.34,277.79 L279.72,277.65 L282.1,277.51 L284.48,277.38 L286.86,277.25 L289.24,277.14 L291.63,277.03 L294.01,276.94 L296.39,276.84 L298.77,276.76 L301.16,276.69 L303.54,276.62 L305.93,276.56 L308.31,276.51 L310.7,276.47 L313.09,276.43 L315.47,276.41 L317.86,276.39 L320.25,276.38 L322.64,276.38 L325.03,276.38 L327.42,276.39Z" fill="url(#coillow)"/><circle cx="327.2" cy="272.8" r="3.6" fill="url(#coillow)"/><circle cx="232" cy="278.5" r="4" fill="url(#coillow)"/><path d="M231.61,282.48 L234.01,282.52 L236.41,282.57 L238.81,282.63 L241.2,282.69 L243.6,282.77 L245.99,282.86 L248.38,282.96 L250.78,283.07 L253.17,283.19 L255.56,283.31 L257.95,283.45 L260.33,283.6 L262.72,283.76 L265.11,283.92 L267.49,284.1 L269.88,284.29 L272.26,284.49 L274.64,284.7 L277.03,284.91 L279.41,285.14 L281.79,285.38 L284.16,285.62 L286.54,285.87 L288.92,286.13 L291.3,286.4 L293.67,286.68 L296.05,286.96 L298.42,287.26 L300.79,287.56 L303.17,287.86 L305.54,288.18 L307.91,288.5 L310.28,288.84 L312.65,289.18 L315.02,289.52 L317.39,289.88 L319.75,290.24 L322.12,290.62 L324.49,291 L326.85,291.38 L327.55,284.22 L325.15,284.14 L322.76,284.05 L320.37,283.96 L317.97,283.86 L315.58,283.75 L313.19,283.63 L310.8,283.51 L308.41,283.38 L306.02,283.24 L303.63,283.09 L301.25,282.93 L298.86,282.76 L296.47,282.59 L294.09,282.41 L291.7,282.22 L289.32,282.03 L286.94,281.82 L284.56,281.61 L282.17,281.39 L279.79,281.16 L277.41,280.92 L275.04,280.67 L272.66,280.42 L270.28,280.15 L267.91,279.87 L265.53,279.59 L263.16,279.29 L260.79,278.98 L258.41,278.66 L256.04,278.34 L253.67,278 L251.3,277.65 L248.94,277.3 L246.57,276.93 L244.2,276.55 L241.84,276.17 L239.47,275.77 L237.11,275.36 L234.75,274.95 L232.39,274.52Z" fill="url(#coillow)"/><circle cx="232" cy="278.5" r="4" fill="url(#coillow)"/><circle cx="327.2" cy="287.8" r="3.6" fill="url(#coillow)"/><path d="M326.97,284.21 L324.6,284.52 L322.23,284.82 L319.85,285.12 L317.48,285.4 L315.11,285.68 L312.74,285.95 L310.37,286.21 L307.99,286.47 L305.62,286.72 L303.24,286.96 L300.87,287.19 L298.49,287.41 L296.12,287.62 L293.74,287.83 L291.36,288.03 L288.99,288.22 L286.61,288.4 L284.23,288.58 L281.85,288.75 L279.47,288.9 L277.09,289.05 L274.71,289.19 L272.33,289.32 L269.94,289.44 L267.56,289.55 L265.18,289.65 L262.79,289.74 L260.41,289.82 L258.02,289.9 L255.64,289.96 L253.25,290.01 L250.86,290.05 L248.48,290.08 L246.09,290.1 L243.7,290.11 L241.31,290.11 L238.92,290.1 L236.52,290.08 L234.13,290.05 L231.74,290.01 L232.26,297.99 L234.63,297.64 L237,297.3 L239.36,296.97 L241.73,296.65 L244.1,296.34 L246.47,296.04 L248.84,295.75 L251.22,295.47 L253.59,295.2 L255.96,294.94 L258.34,294.69 L260.71,294.46 L263.09,294.23 L265.46,294.01 L267.84,293.8 L270.22,293.6 L272.59,293.41 L274.97,293.23 L277.35,293.06 L279.73,292.9 L282.11,292.74 L284.49,292.6 L286.87,292.47 L289.25,292.34 L291.64,292.22 L294.02,292.11 L296.4,292.01 L298.79,291.91 L301.17,291.82 L303.56,291.74 L305.94,291.67 L308.33,291.61 L310.71,291.56 L313.1,291.51 L315.49,291.47 L317.88,291.44 L320.27,291.41 L322.65,291.4 L325.04,291.39 L327.43,291.39Z" fill="url(#coillow)"/><circle cx="327.2" cy="287.8" r="3.6" fill="url(#coillow)"/><circle cx="232" cy="294" r="4" fill="url(#coillow)"/><path d="M231.62,297.98 L234.01,298.02 L236.41,298.06 L238.81,298.12 L241.2,298.18 L243.6,298.26 L245.99,298.35 L248.39,298.44 L250.78,298.55 L253.17,298.66 L255.56,298.79 L257.95,298.92 L260.34,299.07 L262.72,299.22 L265.11,299.39 L267.5,299.57 L269.88,299.75 L272.26,299.95 L274.65,300.15 L277.03,300.37 L279.41,300.59 L281.79,300.82 L284.17,301.07 L286.54,301.32 L288.92,301.57 L291.3,301.84 L293.67,302.11 L296.05,302.4 L298.42,302.69 L300.8,302.98 L303.17,303.29 L305.54,303.6 L307.91,303.92 L310.28,304.25 L312.65,304.59 L315.02,304.94 L317.39,305.29 L319.76,305.65 L322.12,306.02 L324.49,306.4 L326.85,306.78 L327.55,299.62 L325.15,299.54 L322.76,299.46 L320.36,299.37 L317.97,299.27 L315.58,299.16 L313.19,299.05 L310.8,298.93 L308.41,298.8 L306.02,298.66 L303.63,298.51 L301.24,298.36 L298.86,298.19 L296.47,298.02 L294.09,297.85 L291.7,297.66 L289.32,297.47 L286.94,297.26 L284.55,297.05 L282.17,296.84 L279.79,296.61 L277.41,296.37 L275.03,296.13 L272.66,295.87 L270.28,295.61 L267.9,295.33 L265.53,295.05 L263.16,294.76 L260.78,294.45 L258.41,294.14 L256.04,293.81 L253.67,293.48 L251.3,293.13 L248.93,292.78 L246.57,292.41 L244.2,292.04 L241.84,291.66 L239.47,291.26 L237.11,290.86 L234.75,290.44 L232.38,290.02Z" fill="url(#coillow)"/><circle cx="232" cy="294" r="4" fill="url(#coillow)"/><circle cx="327.2" cy="303.2" r="3.6" fill="url(#coillow)"/><path d="M326.94,299.61 L324.57,299.93 L322.21,300.25 L319.84,300.56 L317.46,300.86 L315.09,301.16 L312.72,301.44 L310.35,301.72 L307.98,301.99 L305.6,302.25 L303.23,302.51 L300.85,302.75 L298.48,302.99 L296.1,303.22 L293.73,303.44 L291.35,303.66 L288.97,303.86 L286.59,304.06 L284.22,304.25 L281.84,304.43 L279.46,304.61 L277.08,304.77 L274.7,304.93 L272.31,305.07 L269.93,305.21 L267.55,305.33 L265.16,305.45 L262.78,305.55 L260.39,305.65 L258.01,305.73 L255.62,305.81 L253.23,305.87 L250.85,305.93 L248.46,305.97 L246.07,306.01 L243.68,306.03 L241.29,306.05 L238.89,306.05 L236.5,306.05 L234.11,306.03 L231.72,306.01 L232.28,313.99 L234.65,313.63 L237.02,313.27 L239.39,312.93 L241.75,312.59 L244.12,312.27 L246.49,311.95 L248.86,311.65 L251.23,311.35 L253.61,311.07 L255.98,310.79 L258.35,310.53 L260.73,310.27 L263.1,310.03 L265.48,309.79 L267.85,309.57 L270.23,309.35 L272.61,309.15 L274.98,308.95 L277.36,308.77 L279.74,308.59 L282.12,308.43 L284.5,308.27 L286.89,308.12 L289.27,307.98 L291.65,307.84 L294.03,307.72 L296.42,307.6 L298.8,307.49 L301.19,307.39 L303.57,307.29 L305.96,307.21 L308.34,307.13 L310.73,307.06 L313.12,307 L315.51,306.94 L317.9,306.9 L320.28,306.86 L322.67,306.83 L325.07,306.81 L327.46,306.79Z" fill="url(#coillow)"/><circle cx="327.2" cy="303.2" r="3.6" fill="url(#coillow)"/><circle cx="232" cy="310" r="4" fill="url(#coillow)"/><path d="M231.62,313.98 L234.02,314.01 L236.42,314.05 L238.82,314.1 L241.21,314.17 L243.61,314.24 L246,314.32 L248.39,314.41 L250.78,314.51 L253.17,314.62 L255.56,314.74 L257.95,314.87 L260.34,315.01 L262.73,315.16 L265.11,315.32 L267.5,315.49 L269.88,315.67 L272.27,315.86 L274.65,316.06 L277.03,316.27 L279.41,316.49 L281.79,316.72 L284.17,316.96 L286.55,317.2 L288.93,317.45 L291.3,317.72 L293.68,317.98 L296.05,318.26 L298.43,318.55 L300.8,318.84 L303.17,319.14 L305.55,319.45 L307.92,319.76 L310.29,320.09 L312.66,320.42 L315.03,320.76 L317.4,321.11 L319.76,321.47 L322.13,321.83 L324.5,322.2 L326.86,322.58 L327.54,315.42 L325.14,315.35 L322.75,315.27 L320.36,315.18 L317.96,315.09 L315.57,314.99 L313.18,314.88 L310.79,314.76 L308.4,314.64 L306.01,314.5 L303.63,314.36 L301.24,314.21 L298.85,314.05 L296.47,313.89 L294.08,313.72 L291.7,313.53 L289.31,313.35 L286.93,313.15 L284.55,312.94 L282.17,312.73 L279.79,312.51 L277.41,312.28 L275.03,312.04 L272.65,311.79 L270.28,311.53 L267.9,311.26 L265.53,310.98 L263.15,310.69 L260.78,310.39 L258.41,310.08 L256.04,309.76 L253.67,309.43 L251.3,309.09 L248.93,308.74 L246.56,308.38 L244.19,308.01 L241.83,307.63 L239.46,307.25 L237.1,306.85 L234.74,306.44 L232.38,306.02Z" fill="url(#coillow)"/><circle cx="232" cy="310" r="4" fill="url(#coillow)"/><circle cx="327.2" cy="319" r="3.6" fill="url(#coillow)"/><path d="M326.93,315.41 L324.28,315.67 L321.63,315.92 L318.98,316.18 L316.33,316.43 L313.67,316.67 L311.02,316.92 L308.37,317.16 L305.72,317.39 L303.07,317.63 L300.41,317.86 L297.76,318.09 L295.11,318.31 L292.45,318.54 L289.8,318.75 L287.15,318.97 L284.49,319.18 L281.84,319.4 L279.18,319.6 L276.53,319.81 L273.87,320.01 L271.22,320.21 L268.56,320.41 L265.91,320.61 L263.25,320.81 L260.6,321.01 L257.94,321.21 L255.29,321.41 L252.63,321.61 L249.98,321.81 L247.32,322.01 L244.67,322.21 L242.01,322.41 L239.36,322.61 L236.7,322.81 L234.05,323.01 L231.39,323.21 L228.74,323.41 L226.08,323.61 L223.43,323.81 L220.77,324.01 L221.23,329.99 L223.88,329.79 L226.54,329.59 L229.19,329.39 L231.85,329.19 L234.5,328.99 L237.16,328.79 L239.81,328.59 L242.47,328.39 L245.12,328.19 L247.78,327.99 L250.43,327.79 L253.09,327.59 L255.74,327.39 L258.4,327.19 L261.05,326.99 L263.71,326.79 L266.36,326.59 L269.02,326.39 L271.67,326.19 L274.33,325.99 L276.98,325.79 L279.64,325.6 L282.29,325.4 L284.95,325.22 L287.6,325.03 L290.26,324.85 L292.92,324.66 L295.57,324.49 L298.23,324.31 L300.89,324.14 L303.54,323.97 L306.2,323.81 L308.86,323.64 L311.52,323.48 L314.18,323.33 L316.83,323.17 L319.49,323.02 L322.15,322.88 L324.81,322.73 L327.47,322.59Z" fill="url(#coillow)"/><circle cx="327.2" cy="319" r="3.6" fill="url(#coillow)"/><rect x="207.6" y="322.7" width="13" height="8.9" fill="#b98a3c"/><rect x="207.6" y="324.2" width="13" height="5.9" fill="#e2ac4c"/><path d="M93,103 V100.7 C93,94.7 96,90.7 103,90.7 H208" fill="none" stroke="#d82129" stroke-width="6.3" stroke-linejoin="round"/><path d="M93,193 V207 C93,213 96,217 103,217 H208" fill="none" stroke="#f1b233" stroke-width="6.5" stroke-linejoin="round"/><path d="M95,299.5 H114 C122,299.5 127,294 127,286 V265 C127,257 132,251.5 140,251.5 H208" fill="none" stroke="#d82129" stroke-width="6.5" stroke-linejoin="round"/><path d="M95,359 H106 C113,359 117,354 117,347 V339 C117,332 121,327.5 128,327.5 H208" fill="none" stroke="#f1b233" stroke-width="6" stroke-linejoin="round"/><path d="M353,96.2 H466" fill="none" stroke="#d82129" stroke-width="9" stroke-linejoin="round"/><path d="M353,192.5 H455" fill="none" stroke="#d82129" stroke-width="9" stroke-linejoin="round"/><path d="M353,280.8 H475 Q483,280.8 483,283 Q483,289.2 475,289.2 H353 Z" fill="#f09a2a"/><path d="M353,327.1 H480.5" fill="none" stroke="#1f77c2" stroke-width="9" stroke-linejoin="round"/><path d="M121.5,88.1 H132.5 V80.5 L150.5,90.7 L132.5,100.9 V93.3 H121.5 Z" fill="#ffffff" stroke="#7a3632" stroke-width="1.1" stroke-linejoin="miter"/><path d="M142.1,214.4 H131.1 V206.7 L115.5,217 L131.1,227.3 V219.6 H142.1 Z" fill="#fffcf0" stroke="#dcd0a4" stroke-width="1.1" stroke-linejoin="miter"/><path d="M162.5,249 H172.7 V240.5 L190.5,251.5 L172.7,262.5 V254 H162.5 Z" fill="#ffffff" stroke="#7a3632" stroke-width="1.1" stroke-linejoin="miter"/><path d="M207.6,324.7 H198.3 V317 L181.3,327.4 L198.3,337.8 V330.1 H207.6 Z" fill="#fffcf0" stroke="#dcd0a4" stroke-width="1.1" stroke-linejoin="miter"/><path d="M388.8,93.6 H399.2 V85.3 L416,95.9 L399.2,106.5 V98.2 H388.8 Z" fill="#ffffff" stroke="#6e3430" stroke-width="1.1" stroke-linejoin="miter"/><path d="M388.4,190.1 H399 V181.9 L416.5,192.5 L399,203.1 V194.9 H388.4 Z" fill="#ffffff" stroke="#6e3430" stroke-width="1.1" stroke-linejoin="miter"/><path d="M392.7,282.1 H382.9 V274.4 L366.5,285 L382.9,295.6 V287.9 H392.7 Z" fill="#fffaf0" stroke="#c8a468" stroke-width="1.1" stroke-linejoin="miter"/><path d="M467.7,324.55 H457.5 V316.4 L440.3,327.2 L457.5,338 V329.85 H467.7 Z" fill="#ffffff" stroke="#3a5470" stroke-width="1.1" stroke-linejoin="miter"/><circle cx="166.7" cy="216.8" r="12.25" fill="#fff" stroke="#2d2d2d" stroke-width="1.4"/><path d="M155.35,216.8 L173.2,207.2 L173.2,227.5 Z" fill="#1e1e1e"/><circle cx="139.2" cy="326.9" r="12.25" fill="#fff" stroke="#2d2d2d" stroke-width="1.4"/><path d="M127.85,326.9 L145.7,317.3 L145.7,337.6 Z" fill="#1e1e1e"/><circle cx="419.5" cy="285.3" r="12.25" fill="#fff" stroke="#2d2d2d" stroke-width="1.4"/><path d="M408.15,285.3 L426,275.7 L426,296 Z" fill="#1e1e1e"/><rect x="58.5" y="103" width="70" height="90.5" rx="8" fill="#fff" stroke="#a2a2a2" stroke-width="2"/><rect x="70.5" y="127" width="46" height="42.8" rx="4.5" fill="#fff" stroke="#777777" stroke-width="2.2"/><path d="M91.3,130 C92.8,135 95.2,139 95.5,143.5 C95.6,145 95.5,146 95.4,146.8 C96.8,143.5 98,140.5 98.6,137.5 C101.5,140.5 103.5,144.5 102.9,149 C102.5,152.5 101.2,155 99.6,157 L89,157 C85.3,155 83.3,151 83.8,146 C84.5,140 89.8,136 91.3,130 Z" fill="#7a7a7a"/><circle cx="80.3" cy="163" r="5.1" fill="#7a7a7a"/><circle cx="93.3" cy="163" r="5.1" fill="#7a7a7a"/><circle cx="106.5" cy="163" r="5.1" fill="#7a7a7a"/><rect x="25.5" y="279" width="70" height="89.5" rx="8" fill="#fff" stroke="#a2a2a2" stroke-width="2"/><rect x="37.5" y="301" width="46" height="45" rx="4.5" fill="#fff" stroke="#777777" stroke-width="2.2"/><circle cx="60.4" cy="323.2" r="8.7" fill="#7a7a7a"/><path d="M72.2,323.2 L80.2,323.2" stroke="#7a7a7a" stroke-width="2.6" stroke-linecap="butt"/><path d="M68.74,331.54 L74.4,337.2" stroke="#7a7a7a" stroke-width="2.6" stroke-linecap="butt"/><path d="M60.4,335 L60.4,343" stroke="#7a7a7a" stroke-width="2.6" stroke-linecap="butt"/><path d="M52.06,331.54 L46.4,337.2" stroke="#7a7a7a" stroke-width="2.6" stroke-linecap="butt"/><path d="M48.6,323.2 L40.6,323.2" stroke="#7a7a7a" stroke-width="2.6" stroke-linecap="butt"/><path d="M52.06,314.86 L46.4,309.2" stroke="#7a7a7a" stroke-width="2.6" stroke-linecap="butt"/><path d="M60.4,311.4 L60.4,303.4" stroke="#7a7a7a" stroke-width="2.6" stroke-linecap="butt"/><path d="M68.74,314.86 L74.4,309.2" stroke="#7a7a7a" stroke-width="2.6" stroke-linecap="butt"/><circle cx="508.3" cy="96.9" r="44.5" fill="#fff" stroke="#7e3a34" stroke-width="1.4"/><path d="M481.8,126.5 C476.5,114 475.5,98 482.5,84 C489,72 503,65 514,64 C520,63.5 524,66 521.5,71.5 C518.5,78 506,83 497,87 C490,90.5 487.5,98 486.8,106 C486.2,114 486.8,121 486,127.5 Z" fill="#d8342a"/><path d="M494.8,93.1 L511.2,118.6" stroke="#7a3432" stroke-width="1.25"/><path d="M502.08,89.12 L518.1,114.35" stroke="#7a3432" stroke-width="1.25"/><path d="M509.36,85.14 L525,110.1" stroke="#7a3432" stroke-width="1.25"/><path d="M516.64,81.16 L531.9,105.85" stroke="#7a3432" stroke-width="1.25"/><path d="M523.92,77.18 L538.8,101.6" stroke="#7a3432" stroke-width="1.25"/><circle cx="491.5" cy="227.2" r="54.8" fill="#fff" stroke="#7e3a34" stroke-width="1.4"/><rect x="467.2" y="202" width="11.1" height="67.8" rx="4.2" fill="#d8382a"/><rect x="479.8" y="202" width="11.1" height="67.8" rx="4.2" fill="#d8382a"/><rect x="492.2" y="202" width="11.1" height="67.8" rx="4.2" fill="#d8382a"/><rect x="504.6" y="202" width="11.1" height="67.8" rx="4.2" fill="#d8382a"/><rect x="463.6" y="207" width="2.2" height="10" rx="1" fill="#d8342a"/><rect x="463.6" y="254" width="2.2" height="10" rx="1" fill="#d8342a"/><rect x="517.2" y="207" width="2.2" height="10" rx="1" fill="#d8342a"/><rect x="517.2" y="254" width="2.2" height="10" rx="1" fill="#d8342a"/><path d="M472.5,185 c-3,2.5 -3,4.5 0,6.5 c3,2 3,4 0,6.5" fill="none" stroke="#8e3c34" stroke-width="1.8" stroke-linecap="round"/><path d="M485.3,185 c-3,2.5 -3,4.5 0,6.5 c3,2 3,4 0,6.5" fill="none" stroke="#8e3c34" stroke-width="1.8" stroke-linecap="round"/><path d="M497,185 c-3,2.5 -3,4.5 0,6.5 c3,2 3,4 0,6.5" fill="none" stroke="#8e3c34" stroke-width="1.8" stroke-linecap="round"/><path d="M510.5,185 c-3,2.5 -3,4.5 0,6.5 c3,2 3,4 0,6.5" fill="none" stroke="#8e3c34" stroke-width="1.8" stroke-linecap="round"/></svg>
<div class="cap"><span>Exempel på systemskiss</span></div>
</body></html>
